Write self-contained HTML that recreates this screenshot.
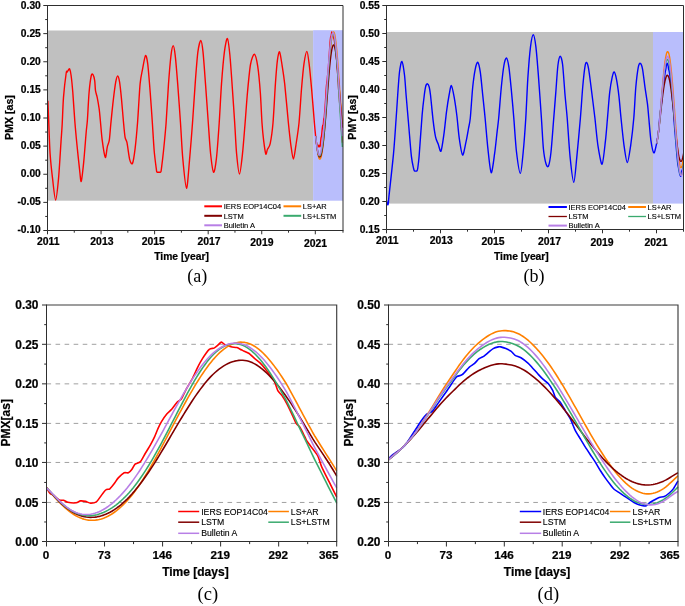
<!DOCTYPE html>
<html><head><meta charset="utf-8"><title>Figure</title>
<style>html,body{margin:0;padding:0;background:#fff;}svg{display:block;will-change:transform;}text{font-family:"Liberation Sans",sans-serif;}</style></head>
<body>
<svg width="685" height="606" viewBox="0 0 685 606" font-family="'Liberation Sans', sans-serif" fill="#000">
<rect width="685" height="606" fill="#fff"/>
<rect x="47.5" y="30.5" width="265.60" height="170.20" fill="#c0c0c0"/>
<rect x="313.1" y="30.2" width="29.90" height="170.50" fill="#b9befc"/>
<clipPath id="ca"><rect x="47.5" y="5.5" width="296.3" height="225.0"/></clipPath>
<g clip-path="url(#ca)">
<path d="M47.90,100.80C48.03,104.05 48.49,116.59 48.80,124.00C49.11,131.41 49.57,146.01 50.10,153.70C50.63,161.39 51.83,172.42 52.60,178.90C53.37,185.38 54.77,200.00 55.60,200.00C56.43,200.00 57.74,187.03 58.50,178.90C59.26,170.77 60.48,149.59 61.00,141.90C61.52,134.21 61.85,130.23 62.20,124.00C62.55,117.77 62.94,104.54 63.50,97.40C64.06,90.26 65.68,76.56 66.20,73.00C66.72,69.44 66.91,72.39 67.20,72.00C67.49,71.61 67.96,70.63 68.30,70.20C68.64,69.77 69.21,68.16 69.60,68.90C69.99,69.64 70.65,72.22 71.10,75.50C71.55,78.78 72.28,85.93 72.80,92.30C73.32,98.67 74.21,113.58 74.80,121.00C75.39,128.42 76.34,138.61 77.00,145.30C77.66,151.99 78.91,163.75 79.50,168.80C80.09,173.85 80.61,182.34 81.20,181.40C81.79,180.46 83.00,169.02 83.70,162.10C84.40,155.18 85.68,137.89 86.20,132.00C86.72,126.11 86.99,125.56 87.40,120.00C87.81,114.44 88.55,98.53 89.10,92.30C89.65,86.07 90.75,77.98 91.30,75.50C91.85,73.02 92.52,73.89 93.00,74.60C93.48,75.31 94.35,78.35 94.70,80.60C95.05,82.85 95.15,88.35 95.50,90.70C95.85,93.05 96.68,94.81 97.20,97.40C97.72,99.99 98.77,106.04 99.20,109.20C99.63,112.36 99.88,115.66 100.30,120.00C100.72,124.34 101.50,134.96 102.20,140.20C102.90,145.44 104.59,156.46 105.30,157.40C106.01,158.34 106.74,149.31 107.30,146.90C107.86,144.49 108.81,143.41 109.30,140.20C109.79,136.99 110.25,129.52 110.80,124.00C111.35,118.48 112.51,106.65 113.20,100.80C113.89,94.95 115.07,85.67 115.70,82.20C116.33,78.73 117.15,76.00 117.70,76.00C118.25,76.00 119.07,78.97 119.60,82.20C120.13,85.43 120.98,93.81 121.50,99.10C122.02,104.39 122.81,114.72 123.30,120.00C123.79,125.28 124.48,133.62 125.00,136.80C125.52,139.98 126.34,139.51 127.00,142.70C127.66,145.89 128.93,156.70 129.70,159.60C130.47,162.50 131.74,164.94 132.50,163.40C133.26,161.86 134.39,154.40 135.10,148.60C135.81,142.80 136.90,131.06 137.60,122.00C138.30,112.94 139.40,91.35 140.10,83.90C140.80,76.45 141.84,72.76 142.60,68.80C143.36,64.84 144.79,56.31 145.50,55.60C146.21,54.89 147.04,58.56 147.70,63.70C148.36,68.84 149.56,84.14 150.20,92.30C150.84,100.46 151.74,113.78 152.30,122.00C152.86,130.22 153.63,144.34 154.20,151.00C154.77,157.66 156.02,166.66 156.40,169.60C156.78,172.54 156.56,171.62 156.90,172.00C157.24,172.38 158.27,172.30 158.80,172.30C159.33,172.30 160.35,172.38 160.70,172.00C161.05,171.62 160.91,172.54 161.30,169.60C161.69,166.66 162.83,157.52 163.50,151.00C164.17,144.48 165.40,132.39 166.10,123.00C166.80,113.61 167.81,93.38 168.50,83.90C169.19,74.42 170.34,60.65 171.00,55.30C171.66,49.95 172.61,45.70 173.20,45.70C173.79,45.70 174.57,49.95 175.20,55.30C175.83,60.65 176.96,74.42 177.70,83.90C178.44,93.38 179.79,112.53 180.50,123.00C181.21,133.47 181.96,149.57 182.80,158.70C183.64,167.83 185.56,187.96 186.50,188.20C187.44,188.44 188.66,169.53 189.50,160.40C190.34,151.27 191.67,134.17 192.50,123.00C193.33,111.83 194.64,90.55 195.40,80.60C196.16,70.65 197.14,57.51 197.90,51.90C198.66,46.29 200.09,40.50 200.80,40.50C201.51,40.50 202.34,45.82 203.00,51.90C203.66,57.98 204.76,73.95 205.50,83.90C206.24,93.85 207.59,113.23 208.30,123.00C209.01,132.77 209.86,146.81 210.60,153.70C211.34,160.59 212.79,171.50 213.60,172.20C214.41,172.90 215.62,165.59 216.40,158.70C217.18,151.81 218.49,133.47 219.20,123.00C219.91,112.53 220.77,93.85 221.50,83.90C222.23,73.95 223.57,58.26 224.40,51.90C225.23,45.54 226.63,38.02 227.40,38.50C228.17,38.98 229.20,48.23 229.90,55.30C230.60,62.37 231.73,79.52 232.40,89.00C233.07,98.48 234.11,113.94 234.70,123.00C235.29,132.06 235.93,146.56 236.60,153.70C237.27,160.84 238.67,174.00 239.50,174.00C240.33,174.00 241.72,160.84 242.50,153.70C243.28,146.56 244.40,131.60 245.10,123.00C245.80,114.40 246.74,100.49 247.50,92.30C248.26,84.11 249.53,69.82 250.50,64.50C251.47,59.18 253.39,54.06 254.40,54.30C255.41,54.54 256.87,60.88 257.70,66.20C258.53,71.52 259.70,84.35 260.30,92.30C260.90,100.25 261.54,116.29 262.00,123.00C262.46,129.71 263.07,135.86 263.60,140.20C264.13,144.54 265.27,152.70 265.80,154.00C266.33,155.30 266.78,150.96 267.40,149.50C268.02,148.04 269.42,147.31 270.20,143.60C270.98,139.89 272.27,131.36 273.00,123.00C273.73,114.64 274.78,92.66 275.40,83.90C276.02,75.14 276.81,64.88 277.40,60.40C277.99,55.92 278.94,51.20 279.60,51.90C280.26,52.60 281.39,60.92 282.10,65.40C282.81,69.88 283.82,75.84 284.70,83.90C285.58,91.96 287.53,114.40 288.40,123.00C289.27,131.60 290.20,140.25 290.90,145.30C291.60,150.35 292.70,159.10 293.40,159.10C294.10,159.10 295.12,150.35 295.90,145.30C296.68,140.25 298.22,130.88 299.00,123.00C299.78,115.12 300.80,97.30 301.50,89.00C302.20,80.70 303.24,68.96 304.00,63.70C304.76,58.44 306.19,51.40 306.90,51.40C307.61,51.40 308.44,58.44 309.10,63.70C309.76,68.96 310.86,80.70 311.60,89.00C312.34,97.30 313.84,116.41 314.40,123.00C314.96,129.59 315.40,133.70 315.62,136.08C315.83,138.46 315.84,139.28 315.93,140.00C316.02,140.72 316.16,140.75 316.25,141.21C316.33,141.67 316.46,142.77 316.55,143.28C316.64,143.79 316.78,144.63 316.86,144.85C316.95,145.07 317.08,144.65 317.18,144.85C317.28,145.05 317.40,146.03 317.57,146.28C317.73,146.53 318.18,146.78 318.34,146.64C318.50,146.50 318.61,145.42 318.73,145.28C318.85,145.14 319.07,145.42 319.20,145.64C319.33,145.86 319.52,146.81 319.66,146.85C319.80,146.89 320.07,146.59 320.20,145.92C320.34,145.25 320.47,143.25 320.59,142.07C320.71,140.89 320.94,138.26 321.06,137.50C321.18,136.74 321.34,137.27 321.45,136.65C321.56,136.03 321.73,134.17 321.84,133.08C321.95,131.99 322.10,129.97 322.23,128.87C322.36,127.77 322.64,125.74 322.77,125.23C322.90,124.72 323.06,125.56 323.16,125.23C323.26,124.90 323.39,123.74 323.47,122.88C323.56,122.01 323.67,119.78 323.78,119.02C323.88,118.26 324.12,118.51 324.25,117.45C324.38,116.39 324.58,113.14 324.71,111.46C324.84,109.78 325.06,107.12 325.18,105.47C325.30,103.81 325.47,101.28 325.57,99.61C325.67,97.95 325.81,95.07 325.90,93.55C325.99,92.03 326.10,90.20 326.21,88.77C326.32,87.34 326.56,84.60 326.70,83.35C326.83,82.09 327.04,80.96 327.17,79.78C327.31,78.60 327.53,75.94 327.65,74.93C327.77,73.92 327.92,73.91 328.04,72.57C328.16,71.23 328.37,67.38 328.51,65.37C328.65,63.35 328.91,60.27 329.05,58.16C329.19,56.05 329.39,52.33 329.53,50.31C329.66,48.29 329.84,45.59 329.99,43.75C330.14,41.90 330.47,38.16 330.62,37.11C330.77,36.06 330.95,36.67 331.06,36.25C331.17,35.83 331.32,34.71 331.41,34.11C331.51,33.51 331.65,32.00 331.74,31.97C331.84,31.94 331.96,33.43 332.08,33.90C332.20,34.37 332.47,35.05 332.63,35.33C332.78,35.61 333.04,35.60 333.17,35.90C333.30,36.20 333.48,37.13 333.57,37.47C333.65,37.81 333.70,37.95 333.80,38.32C333.91,38.69 334.17,39.44 334.30,40.11C334.43,40.78 334.58,42.17 334.72,43.10C334.86,44.03 335.15,45.64 335.30,46.74C335.45,47.84 335.65,49.69 335.78,50.95C335.91,52.21 336.12,54.47 336.24,55.73C336.36,56.99 336.53,58.42 336.63,59.94C336.73,61.46 336.85,65.15 336.94,66.58C337.04,68.01 337.21,68.81 337.33,70.15C337.45,71.48 337.67,74.37 337.80,76.14C337.92,77.91 338.10,80.84 338.21,82.78C338.33,84.71 338.53,88.58 338.64,89.98C338.74,91.38 338.87,91.42 338.98,92.76C339.10,94.11 339.35,98.17 339.45,99.61C339.54,101.06 339.51,101.27 339.68,103.11C339.84,104.95 340.42,110.22 340.61,112.74C340.79,115.27 340.85,118.48 341.01,121.16C341.16,123.85 341.50,128.91 341.70,131.94C341.89,134.96 342.30,141.26 342.40,142.78" fill="none" stroke="#ff0000" stroke-width="1.4" stroke-linejoin="round" stroke-linecap="butt" />
<path d="M315.62,136.01L315.81,137.76L316.00,139.51L316.20,141.23L316.39,142.92L316.58,144.57L316.77,146.15L316.97,147.67L317.16,149.12L317.35,150.48L317.55,151.75L317.74,152.94L317.93,154.03L318.12,155.01L318.32,155.90L318.51,156.68L318.70,157.36L318.89,157.93L319.09,158.39L319.28,158.74L319.47,158.98L319.67,159.11L319.87,159.13L320.07,159.05L320.27,158.85L320.47,158.54L320.67,158.12L320.87,157.60L321.07,156.97L321.27,156.23L321.47,155.39L321.67,154.44L321.86,153.38L322.06,152.23L322.26,150.97L322.46,149.62L322.66,148.17L322.86,146.62L323.06,144.98L323.26,143.25L323.46,141.43L323.65,139.52L323.84,137.53L324.03,135.45L324.22,133.30L324.41,131.07L324.60,128.77L324.79,126.41L324.99,123.97L325.18,121.48L325.37,118.93L325.56,116.33L325.75,113.69L325.94,110.99L326.13,108.27L326.32,105.50L326.51,102.72L326.70,99.90L326.89,97.08L327.08,94.24L327.27,91.39L327.47,88.55L327.67,85.71L327.86,82.88L328.06,80.07L328.25,77.29L328.45,74.54L328.65,71.82L328.84,69.15L329.04,66.53L329.23,63.96L329.43,61.45L329.63,59.01L329.82,56.64L330.02,54.35L330.21,52.15L330.41,50.04L330.61,48.02L330.80,46.10L331.00,44.29L331.19,42.58L331.39,40.99L331.58,39.52L331.78,38.18L331.97,36.95L332.17,35.86L332.36,34.90L332.56,34.07L332.75,33.38L332.95,32.83L333.14,32.42L333.33,32.15L333.52,32.02L333.71,32.04L333.89,32.19L334.08,32.49L334.27,32.93L334.46,33.51L334.64,34.22L334.83,35.07L335.02,36.05L335.21,37.16L335.39,38.40L335.58,39.76L335.77,41.24L335.96,42.83L336.15,44.53L336.35,46.33L336.54,48.23L336.73,50.22L336.93,52.30L337.12,54.45L337.31,56.68L337.51,58.97L337.70,61.33L337.88,63.73L338.06,66.18L338.23,68.67L338.41,71.20L338.58,73.74L338.76,76.31L338.94,78.89L339.11,81.47L339.29,84.06L339.47,86.64L339.65,89.21L339.83,91.77L340.01,94.32L340.19,96.85L340.38,99.36L340.59,101.85L340.79,104.33L340.99,106.79L341.19,109.24L341.39,111.68L341.59,114.13L341.79,116.58L342.00,119.06L342.20,121.57L342.40,124.14" fill="none" stroke="#ff8000" stroke-width="1.4" stroke-linejoin="round" stroke-linecap="butt" />
<path d="M315.62,136.00L315.81,137.73L316.00,139.44L316.20,141.11L316.39,142.73L316.58,144.28L316.77,145.75L316.97,147.15L317.16,148.47L317.35,149.70L317.55,150.84L317.74,151.89L317.93,152.84L318.12,153.69L318.32,154.45L318.51,155.11L318.70,155.67L318.89,156.14L319.09,156.51L319.28,156.77L319.47,156.94L319.67,157.02L319.87,156.99L320.07,156.87L320.27,156.65L320.47,156.34L320.67,155.93L320.87,155.42L321.07,154.82L321.27,154.13L321.47,153.35L321.67,152.47L321.86,151.50L322.06,150.43L322.26,149.28L322.46,148.05L322.66,146.72L322.86,145.31L323.06,143.82L323.26,142.24L323.46,140.58L323.66,138.85L323.85,137.04L324.05,135.16L324.24,133.22L324.43,131.20L324.63,129.12L324.82,126.99L325.02,124.79L325.21,122.55L325.41,120.26L325.60,117.92L325.79,115.55L325.98,113.14L326.17,110.70L326.37,108.24L326.56,105.75L326.75,103.25L326.94,100.74L327.13,98.23L327.32,95.72L327.51,93.21L327.70,90.72L327.89,88.24L328.08,85.78L328.27,83.35L328.47,80.96L328.66,78.60L328.85,76.29L329.04,74.02L329.23,71.81L329.42,69.65L329.61,67.56L329.80,65.54L329.99,63.59L330.18,61.72L330.38,59.93L330.57,58.22L330.76,56.61L330.96,55.08L331.16,53.65L331.36,52.32L331.56,51.10L331.76,49.97L331.96,48.96L332.16,48.05L332.36,47.26L332.56,46.58L332.76,46.01L332.96,45.57L333.16,45.23L333.35,45.02L333.53,44.92L333.71,44.94L333.90,45.08L334.08,45.33L334.26,45.70L334.44,46.19L334.63,46.79L334.81,47.50L334.99,48.32L335.18,49.25L335.36,50.29L335.54,51.43L335.73,52.67L335.91,54.01L336.10,55.44L336.29,56.96L336.48,58.56L336.67,60.25L336.87,62.01L337.06,63.85L337.25,65.75L337.44,67.71L337.63,69.74L337.82,71.81L338.00,73.93L338.19,76.09L338.37,78.29L338.56,80.52L338.75,82.77L338.93,85.05L339.11,87.34L339.29,89.65L339.47,91.96L339.65,94.27L339.83,96.59L340.01,98.91L340.19,101.22L340.38,103.54L340.59,105.85L340.79,108.16L340.99,110.49L341.19,112.82L341.39,115.18L341.59,117.57L341.79,120.00L342.00,122.49L342.20,125.07L342.40,127.75" fill="none" stroke="#800000" stroke-width="1.4" stroke-linejoin="round" stroke-linecap="butt" />
<path d="M315.62,136.09L315.81,137.59L316.00,139.14L316.20,140.72L316.39,142.29L316.58,143.83L316.77,145.32L316.97,146.73L317.16,148.06L317.35,149.30L317.55,150.44L317.74,151.48L317.93,152.41L318.12,153.22L318.32,153.93L318.51,154.52L318.70,155.00L318.89,155.37L319.09,155.64L319.28,155.80L319.47,155.86L319.67,155.81L319.86,155.67L320.06,155.43L320.26,155.10L320.46,154.67L320.65,154.15L320.85,153.54L321.05,152.84L321.25,152.06L321.44,151.18L321.64,150.22L321.84,149.18L322.04,148.04L322.23,146.82L322.43,145.51L322.63,144.12L322.83,142.64L323.02,141.07L323.22,139.41L323.42,137.67L323.61,135.85L323.81,133.94L324.00,131.94L324.19,129.87L324.39,127.71L324.58,125.47L324.78,123.16L324.97,120.77L325.16,118.31L325.36,115.78L325.55,113.19L325.75,110.54L325.94,107.84L326.13,105.08L326.33,102.28L326.52,99.44L326.72,96.57L326.91,93.67L327.11,90.76L327.30,87.83L327.49,84.90L327.69,81.98L327.88,79.06L328.08,76.17L328.27,73.30L328.47,70.48L328.66,67.69L328.86,64.97L329.05,62.30L329.25,59.70L329.44,57.19L329.64,54.76L329.83,52.43L330.02,50.20L330.22,48.08L330.41,46.07L330.61,44.20L330.80,42.45L331.00,40.83L331.20,39.36L331.40,38.04L331.60,36.86L331.80,35.84L331.99,34.98L332.19,34.27L332.39,33.73L332.59,33.35L332.79,33.13L332.99,33.08L333.19,33.18L333.38,33.45L333.57,33.88L333.76,34.46L333.95,35.20L334.15,36.08L334.34,37.11L334.53,38.28L334.72,39.59L334.91,41.03L335.10,42.59L335.29,44.27L335.49,46.06L335.68,47.95L335.87,49.94L336.06,52.03L336.25,54.20L336.43,56.45L336.62,58.77L336.81,61.15L337.00,63.59L337.19,66.09L337.37,68.64L337.56,71.22L337.75,73.85L337.92,76.51L338.09,79.20L338.26,81.92L338.43,84.67L338.60,87.44L338.77,90.23L338.94,93.04L339.11,95.88L339.29,98.73L339.47,101.61L339.65,104.52L339.83,107.45L340.01,110.40L340.19,113.38L340.38,116.38L340.59,119.41L340.79,122.47L340.99,125.55L341.19,128.64L341.39,131.75L341.59,134.85L341.79,137.95L342.00,141.02L342.20,144.05L342.40,147.01" fill="none" stroke="#3aaa6e" stroke-width="1.4" stroke-linejoin="round" stroke-linecap="butt" />
<path d="M315.62,136.10L315.81,137.54L316.00,139.05L316.20,140.59L316.39,142.13L316.58,143.64L316.77,145.11L316.97,146.51L317.16,147.83L317.35,149.06L317.55,150.18L317.74,151.20L317.93,152.10L318.12,152.88L318.32,153.54L318.51,154.08L318.70,154.50L318.89,154.80L319.09,154.97L319.28,155.03L319.47,154.97L319.67,154.79L319.86,154.50L320.06,154.10L320.26,153.59L320.46,152.97L320.65,152.25L320.85,151.43L321.05,150.50L321.25,149.48L321.44,148.36L321.64,147.15L321.84,145.85L322.04,144.45L322.23,142.97L322.43,141.40L322.63,139.75L322.83,138.01L323.02,136.20L323.22,134.30L323.42,132.33L323.61,130.28L323.81,128.16L324.00,125.98L324.19,123.72L324.39,121.41L324.58,119.03L324.78,116.60L324.97,114.11L325.16,111.58L325.36,109.00L325.55,106.38L325.75,103.72L325.94,101.04L326.13,98.32L326.33,95.59L326.52,92.84L326.72,90.09L326.91,87.33L327.11,84.57L327.30,81.82L327.49,79.08L327.69,76.37L327.88,73.69L328.08,71.04L328.27,68.43L328.47,65.87L328.66,63.36L328.86,60.91L329.05,58.53L329.25,56.22L329.44,54.00L329.64,51.85L329.83,49.80L330.02,47.84L330.22,45.98L330.41,44.23L330.61,42.59L330.80,41.07L331.00,39.66L331.21,38.38L331.41,37.22L331.61,36.19L331.81,35.29L332.02,34.52L332.22,33.89L332.42,33.39L332.62,33.03L332.83,32.80L333.03,32.72L333.23,32.76L333.42,32.94L333.61,33.26L333.80,33.70L333.99,34.28L334.18,34.98L334.36,35.81L334.55,36.76L334.74,37.82L334.93,39.00L335.12,40.29L335.31,41.69L335.49,43.19L335.68,44.79L335.87,46.48L336.06,48.26L336.25,50.12L336.43,52.07L336.62,54.09L336.81,56.18L337.00,58.34L337.19,60.57L337.37,62.85L337.56,65.19L337.75,67.58L337.92,70.01L338.09,72.50L338.26,75.02L338.43,77.58L338.60,80.18L338.77,82.82L338.94,85.48L339.11,88.18L339.29,90.90L339.47,93.66L339.65,96.43L339.83,99.23L340.01,102.05L340.19,104.89L340.38,107.75L340.59,110.62L340.79,113.50L340.99,116.38L341.19,119.27L341.39,122.15L341.59,125.02L341.79,127.86L342.00,130.68L342.20,133.44L342.40,136.15" fill="none" stroke="#b87fe6" stroke-width="1.4" stroke-linejoin="round" stroke-linecap="butt" />
</g>
<path d="M47.5,5.5H343.0V230.5" fill="none" stroke="#2e2e2e" stroke-width="1.0"/><path d="M47.5,5.0V230.5H343.5" fill="none" stroke="#2e2e2e" stroke-width="1"/>
<path d="M43.3,5.50H47.5" stroke="#2e2e2e" stroke-width="1"/><text x="40.8" y="9.17" text-anchor="end" font-size="10.25" font-weight="bold" stroke="#000" stroke-width="0.22">0.30</text><path d="M45.2,19.56H47.5" stroke="#2e2e2e" stroke-width="1"/><path d="M43.3,33.62H47.5" stroke="#2e2e2e" stroke-width="1"/><text x="40.8" y="37.18" text-anchor="end" font-size="10.25" font-weight="bold" stroke="#000" stroke-width="0.22">0.25</text><path d="M45.2,47.69H47.5" stroke="#2e2e2e" stroke-width="1"/><path d="M43.3,61.75H47.5" stroke="#2e2e2e" stroke-width="1"/><text x="40.8" y="65.20" text-anchor="end" font-size="10.25" font-weight="bold" stroke="#000" stroke-width="0.22">0.20</text><path d="M45.2,75.81H47.5" stroke="#2e2e2e" stroke-width="1"/><path d="M43.3,89.88H47.5" stroke="#2e2e2e" stroke-width="1"/><text x="40.8" y="93.21" text-anchor="end" font-size="10.25" font-weight="bold" stroke="#000" stroke-width="0.22">0.15</text><path d="M45.2,103.94H47.5" stroke="#2e2e2e" stroke-width="1"/><path d="M43.3,118.00H47.5" stroke="#2e2e2e" stroke-width="1"/><text x="40.8" y="121.23" text-anchor="end" font-size="10.25" font-weight="bold" stroke="#000" stroke-width="0.22">0.10</text><path d="M45.2,132.06H47.5" stroke="#2e2e2e" stroke-width="1"/><path d="M43.3,146.12H47.5" stroke="#2e2e2e" stroke-width="1"/><text x="40.8" y="149.24" text-anchor="end" font-size="10.25" font-weight="bold" stroke="#000" stroke-width="0.22">0.05</text><path d="M45.2,160.19H47.5" stroke="#2e2e2e" stroke-width="1"/><path d="M43.3,174.25H47.5" stroke="#2e2e2e" stroke-width="1"/><text x="40.8" y="177.26" text-anchor="end" font-size="10.25" font-weight="bold" stroke="#000" stroke-width="0.22">0.00</text><path d="M45.2,188.31H47.5" stroke="#2e2e2e" stroke-width="1"/><path d="M43.3,202.38H47.5" stroke="#2e2e2e" stroke-width="1"/><text x="40.8" y="205.27" text-anchor="end" font-size="10.25" font-weight="bold" stroke="#000" stroke-width="0.22">-0.05</text><path d="M45.2,216.44H47.5" stroke="#2e2e2e" stroke-width="1"/><path d="M43.3,230.50H47.5" stroke="#2e2e2e" stroke-width="1"/><text x="40.8" y="233.29" text-anchor="end" font-size="10.25" font-weight="bold" stroke="#000" stroke-width="0.22">-0.10</text>
<path d="M47.50,230.5v3.8" stroke="#2e2e2e" stroke-width="1"/>
<text x="48.20" y="244.8" text-anchor="middle" font-size="10.4" font-weight="bold" stroke="#000" stroke-width="0.22">2011</text>
<path d="M74.28,230.5v2.2" stroke="#2e2e2e" stroke-width="1"/>
<path d="M101.06,230.5v3.8" stroke="#2e2e2e" stroke-width="1"/>
<text x="101.90" y="244.8" text-anchor="middle" font-size="10.4" font-weight="bold" stroke="#000" stroke-width="0.22">2013</text>
<path d="M127.84,230.5v2.2" stroke="#2e2e2e" stroke-width="1"/>
<path d="M154.62,230.5v3.8" stroke="#2e2e2e" stroke-width="1"/>
<text x="153.30" y="245.1" text-anchor="middle" font-size="10.4" font-weight="bold" stroke="#000" stroke-width="0.22">2015</text>
<path d="M181.40,230.5v2.2" stroke="#2e2e2e" stroke-width="1"/>
<path d="M208.18,230.5v3.8" stroke="#2e2e2e" stroke-width="1"/>
<text x="209.10" y="245.1" text-anchor="middle" font-size="10.4" font-weight="bold" stroke="#000" stroke-width="0.22">2017</text>
<path d="M234.96,230.5v2.2" stroke="#2e2e2e" stroke-width="1"/>
<path d="M261.74,230.5v3.8" stroke="#2e2e2e" stroke-width="1"/>
<text x="261.90" y="246.0" text-anchor="middle" font-size="10.4" font-weight="bold" stroke="#000" stroke-width="0.22">2019</text>
<path d="M288.52,230.5v2.2" stroke="#2e2e2e" stroke-width="1"/>
<path d="M315.30,230.5v3.8" stroke="#2e2e2e" stroke-width="1"/>
<text x="315.60" y="246.7" text-anchor="middle" font-size="10.4" font-weight="bold" stroke="#000" stroke-width="0.22">2021</text>
<path d="M343.00,230.5v2.2" stroke="#2e2e2e" stroke-width="1"/>
<text x="181.6" y="260.3" text-anchor="middle" font-size="10.3" font-weight="bold" stroke="#000" stroke-width="0.22">Time [year]</text>
<text transform="translate(13.1,117.5) rotate(-90)" text-anchor="middle" font-size="10.6" font-weight="bold" stroke="#000" stroke-width="0.22">PMX [as]</text>
<text x="197.3" y="282" text-anchor="middle" font-size="18" style="font-family:'Liberation Serif',serif">(a)</text>
<path d="M204.3,206.3H222.0" stroke="#ff0000" stroke-width="2.0"/><text x="223.7" y="209.00" font-size="7.5" fill="#000" stroke="#000" stroke-width="0.12">IERS EOP14C04</text><path d="M204.3,215.8H222.0" stroke="#800000" stroke-width="2.0"/><text x="223.7" y="218.50" font-size="7.5" fill="#000" stroke="#000" stroke-width="0.12">LSTM</text><path d="M204.3,225.3H222.0" stroke="#b87fe6" stroke-width="2.0"/><text x="223.7" y="228.00" font-size="7.5" fill="#000" stroke="#000" stroke-width="0.12">Bulletin A</text><path d="M283.5,206.3H301.2" stroke="#ff8000" stroke-width="2.0"/><text x="302.8" y="209.00" font-size="7.5" fill="#000" stroke="#000" stroke-width="0.12">LS+AR</text><path d="M283.5,215.8H301.2" stroke="#3aaa6e" stroke-width="2.0"/><text x="302.8" y="218.50" font-size="7.5" fill="#000" stroke="#000" stroke-width="0.12">LS+LSTM</text>
<rect x="386.5" y="32.0" width="266.50" height="171.60" fill="#c0c0c0"/>
<rect x="653.0" y="32.0" width="30.50" height="171.60" fill="#b9befc"/>
<clipPath id="cb"><rect x="386.5" y="5.5" width="297.5" height="224.0"/></clipPath>
<g clip-path="url(#cb)">
<path d="M386.40,200.20C386.51,200.59 386.99,202.34 387.20,203.00C387.41,203.66 387.72,204.97 387.90,204.90C388.08,204.83 388.36,203.62 388.50,202.50C388.64,201.38 388.20,203.70 388.90,196.90C389.60,190.10 392.51,164.62 393.50,153.90C394.49,143.18 395.41,128.55 396.00,120.30C396.59,112.05 397.21,101.76 397.70,95.00C398.19,88.24 398.91,76.70 399.50,72.00C400.09,67.30 401.20,60.98 401.90,61.40C402.60,61.82 403.91,70.30 404.50,75.00C405.09,79.70 405.51,87.96 406.10,95.00C406.69,102.04 407.96,116.70 408.70,125.30C409.44,133.90 410.71,150.35 411.40,156.40C412.09,162.45 413.18,166.48 413.60,168.50C414.02,170.52 414.11,170.44 414.40,170.80C414.69,171.16 415.34,171.10 415.70,171.10C416.06,171.10 416.72,171.16 417.00,170.80C417.28,170.44 417.41,170.52 417.70,168.50C417.99,166.48 418.48,163.86 419.10,156.40C419.72,148.94 421.37,123.80 422.10,115.20C422.83,106.60 423.78,99.09 424.30,95.00C424.82,90.91 425.35,87.57 425.80,86.00C426.25,84.43 427.02,83.66 427.50,83.80C427.98,83.94 428.78,85.43 429.20,87.00C429.62,88.57 429.95,90.34 430.50,95.00C431.05,99.66 432.39,114.41 433.10,120.30C433.81,126.19 434.90,133.81 435.60,137.10C436.30,140.39 437.34,141.84 438.10,143.80C438.86,145.76 440.17,152.51 441.00,151.10C441.83,149.69 443.23,139.20 444.00,133.70C444.77,128.20 445.79,117.22 446.50,111.80C447.21,106.38 448.41,98.67 449.10,95.00C449.79,91.33 450.69,85.26 451.40,85.60C452.11,85.94 453.43,93.14 454.20,97.40C454.97,101.66 456.19,110.23 456.90,116.00C457.61,121.77 458.50,133.13 459.30,138.60C460.10,144.07 461.66,154.64 462.60,155.10C463.54,155.56 465.17,145.62 466.00,141.90C466.83,138.18 467.90,131.85 468.50,128.50C469.10,125.15 469.71,123.77 470.30,118.00C470.89,112.23 472.00,94.19 472.70,87.30C473.40,80.41 474.59,72.29 475.30,68.80C476.01,65.31 477.10,61.92 477.80,62.40C478.50,62.88 479.60,67.52 480.30,72.20C481.00,76.88 482.13,89.39 482.80,95.80C483.47,102.21 484.39,110.59 485.10,118.00C485.81,125.41 487.05,141.04 487.90,148.70C488.75,156.36 490.26,172.00 491.20,172.70C492.14,173.40 493.77,159.43 494.60,153.70C495.43,147.97 496.53,136.80 497.10,131.80C497.67,126.80 498.11,124.23 498.70,118.00C499.29,111.77 500.57,94.65 501.30,87.30C502.03,79.95 503.19,69.62 503.90,65.50C504.61,61.38 505.70,57.68 506.40,57.90C507.10,58.12 508.20,62.51 508.90,67.10C509.60,71.69 510.71,83.57 511.40,90.70C512.09,97.83 513.09,109.42 513.80,118.00C514.51,126.58 515.58,144.24 516.50,152.00C517.42,159.76 519.46,173.40 520.40,173.40C521.34,173.40 522.44,159.76 523.20,152.00C523.96,144.24 525.16,128.23 525.80,118.00C526.44,107.77 527.14,88.85 527.80,78.90C528.46,68.95 529.73,53.07 530.50,46.90C531.27,40.73 532.54,34.80 533.30,34.80C534.06,34.80 535.19,41.19 535.90,46.90C536.61,52.61 537.63,65.65 538.40,75.60C539.17,85.55 540.70,107.77 541.40,118.00C542.10,128.23 542.76,142.29 543.40,148.70C544.04,155.11 545.29,161.38 546.00,163.80C546.71,166.22 547.80,167.65 548.50,166.00C549.20,164.35 550.29,158.44 551.00,152.00C551.71,145.56 552.93,128.34 553.60,120.00C554.27,111.66 555.20,100.03 555.80,92.40C556.40,84.77 557.28,70.57 557.90,65.50C558.52,60.43 559.54,56.34 560.20,56.20C560.86,56.06 561.91,58.96 562.60,64.50C563.29,70.04 564.46,88.31 565.10,95.80C565.74,103.29 566.50,109.42 567.20,118.00C567.90,126.58 569.18,148.10 570.10,157.10C571.02,166.10 572.86,182.30 573.80,182.30C574.74,182.30 575.88,166.10 576.80,157.10C577.72,148.10 579.57,127.77 580.40,118.00C581.23,108.23 582.07,94.43 582.70,87.30C583.33,80.17 584.35,70.59 584.90,67.10C585.45,63.61 586.08,62.16 586.60,62.40C587.12,62.64 587.97,65.31 588.60,68.80C589.23,72.29 590.22,80.41 591.10,87.30C591.98,94.19 593.95,109.88 594.90,118.00C595.85,126.12 596.89,138.83 597.90,145.30C598.91,151.77 601.04,164.90 602.10,164.20C603.16,163.50 604.74,146.77 605.50,140.30C606.26,133.83 606.91,124.71 607.50,118.00C608.09,111.29 609.04,98.11 609.70,92.40C610.36,86.69 611.57,80.07 612.20,77.20C612.83,74.33 613.61,71.66 614.20,71.90C614.79,72.14 615.74,75.55 616.40,78.90C617.06,82.25 618.26,90.33 618.90,95.80C619.54,101.27 620.29,111.07 621.00,118.00C621.71,124.93 623.12,139.06 624.00,145.30C624.88,151.54 626.36,162.60 627.30,162.60C628.24,162.60 629.79,151.54 630.70,145.30C631.61,139.06 633.09,126.12 633.80,118.00C634.51,109.88 635.17,94.43 635.80,87.30C636.43,80.17 637.67,70.46 638.30,67.10C638.93,63.74 639.71,63.06 640.30,63.30C640.89,63.54 641.84,65.44 642.50,68.80C643.16,72.16 644.30,82.34 645.00,87.30C645.70,92.26 646.97,99.90 647.50,104.20C648.03,108.50 648.32,112.95 648.80,118.00C649.28,123.05 650.19,135.41 650.90,140.30C651.61,145.19 653.07,152.56 653.90,152.90C654.73,153.24 656.36,144.49 656.81,142.72C657.26,140.95 657.02,140.94 657.13,140.27C657.23,139.60 657.40,138.90 657.56,137.92C657.73,136.95 658.09,135.45 658.33,133.31C658.57,131.16 659.05,125.09 659.27,122.58C659.49,120.07 659.74,117.02 659.90,115.40C660.05,113.79 660.23,111.93 660.36,111.07C660.50,110.22 660.71,110.30 660.86,109.30C661.00,108.29 661.18,105.91 661.37,103.90C661.56,101.89 661.97,97.45 662.20,94.95C662.43,92.44 662.86,87.51 663.00,86.00C663.14,84.48 663.14,84.57 663.23,84.15C663.32,83.73 663.51,83.93 663.67,83.01C663.83,82.10 664.18,78.71 664.34,77.61C664.50,76.52 664.67,76.03 664.80,75.20C664.93,74.36 665.12,72.40 665.25,71.65C665.38,70.89 665.58,70.48 665.71,69.80C665.84,69.12 666.05,67.56 666.17,66.82C666.29,66.07 666.44,64.97 666.56,64.47C666.69,63.97 666.94,63.43 667.04,63.26C667.14,63.09 667.17,63.09 667.27,63.26C667.37,63.43 667.62,64.05 667.75,64.47C667.88,64.89 668.10,65.58 668.22,66.25C668.34,66.91 668.48,68.56 668.61,69.23C668.74,69.90 668.99,70.25 669.16,71.01C669.32,71.76 669.64,73.71 669.78,74.63C669.92,75.54 670.01,76.38 670.16,77.54C670.30,78.71 670.64,81.68 670.79,82.94C670.94,84.20 671.12,85.64 671.26,86.56C671.39,87.49 671.61,88.46 671.73,89.55C671.85,90.63 672.04,92.97 672.12,94.31C672.21,95.64 672.26,97.89 672.36,99.07C672.46,100.24 672.70,101.35 672.83,102.69C672.96,104.03 673.17,106.99 673.30,108.66C673.43,110.33 673.65,112.70 673.77,114.62C673.90,116.54 674.08,120.45 674.20,122.37C674.33,124.29 674.54,126.66 674.67,128.33C674.80,130.00 675.01,132.71 675.15,134.30C675.28,135.89 675.48,138.19 675.61,139.70C675.74,141.21 675.96,143.51 676.09,145.10C676.22,146.69 676.42,149.47 676.55,151.06C676.69,152.66 676.90,155.04 677.03,156.46C677.16,157.89 677.39,160.14 677.50,161.22C677.61,162.31 677.70,163.45 677.81,164.21C677.92,164.96 678.15,165.95 678.28,166.62C678.41,167.30 678.62,168.37 678.75,169.04C678.89,169.70 679.09,170.71 679.22,171.38C679.35,172.05 679.56,173.24 679.70,173.80C679.83,174.35 680.03,175.02 680.16,175.36C680.29,175.70 680.54,176.13 680.64,176.21C680.74,176.29 680.79,176.27 680.87,175.93C680.95,175.59 681.09,174.34 681.19,173.80C681.29,173.25 681.46,172.53 681.58,172.02C681.70,171.51 681.91,170.51 682.05,170.17C682.18,169.84 682.39,170.04 682.52,169.60C682.65,169.17 682.87,167.84 682.99,167.05C683.11,166.25 683.27,165.14 683.38,163.93C683.50,162.71 683.75,159.16 683.81,158.38" fill="none" stroke="#0000ff" stroke-width="1.4" stroke-linejoin="round" stroke-linecap="butt" />
<path d="M656.81,143.44L657.00,142.03L657.20,140.74L657.39,139.51L657.59,138.28L657.78,137.02L657.97,135.67L658.17,134.23L658.36,132.68L658.57,131.05L658.78,129.30L658.99,127.42L659.19,125.41L659.40,123.28L659.61,121.04L659.82,118.71L660.03,116.29L660.24,113.79L660.45,111.24L660.66,108.64L660.87,106.02L661.08,103.37L661.29,100.72L661.50,98.07L661.71,95.45L661.93,92.85L662.15,90.29L662.37,87.77L662.59,85.31L662.80,82.92L663.01,80.59L663.21,78.33L663.41,76.15L663.60,74.06L663.80,72.05L664.00,70.13L664.20,68.29L664.39,66.55L664.59,64.91L664.79,63.35L664.99,61.89L665.18,60.53L665.38,59.26L665.58,58.09L665.77,57.02L665.96,56.04L666.14,55.15L666.32,54.36L666.50,53.67L666.68,53.07L666.86,52.57L667.04,52.17L667.22,51.91L667.40,51.76L667.57,51.70L667.75,51.74L667.93,51.86L668.10,51.99L668.27,52.23L668.45,52.55L668.62,52.98L668.79,53.51L668.97,54.13L669.14,54.86L669.32,55.71L669.50,56.67L669.69,57.73L669.87,58.88L670.05,60.13L670.23,61.48L670.41,62.92L670.60,64.45L670.79,66.07L670.99,67.78L671.18,69.58L671.38,71.46L671.57,73.42L671.77,75.45L671.96,77.56L672.15,79.74L672.35,81.99L672.54,84.30L672.74,86.66L672.93,89.07L673.13,91.54L673.32,94.04L673.51,96.58L673.71,99.16L673.90,101.75L674.10,104.37L674.29,107.00L674.49,109.64L674.68,112.28L674.87,114.92L675.07,117.55L675.26,120.17L675.46,122.76L675.65,125.33L675.85,127.87L676.04,130.37L676.23,132.83L676.43,135.24L676.62,137.60L676.82,139.90L677.01,142.14L677.21,144.31L677.40,146.42L677.59,148.45L677.79,150.40L677.98,152.26L678.18,154.04L678.37,155.73L678.56,157.32L678.76,158.82L678.95,160.21L679.15,161.49L679.34,162.66L679.54,163.72L679.73,164.66L679.92,165.48L680.12,166.18L680.31,166.74L680.51,167.18L680.70,167.48L680.90,167.64L681.09,167.66L681.28,167.54L681.48,167.27L681.67,166.87L681.87,166.32L682.06,165.64L682.26,164.83L682.45,163.90L682.64,162.82L682.84,161.59L683.03,160.27L683.23,158.90L683.42,157.51L683.62,156.12L683.81,154.79" fill="none" stroke="#ff8000" stroke-width="1.4" stroke-linejoin="round" stroke-linecap="butt" />
<path d="M656.81,143.39L657.00,142.17L657.20,140.95L657.39,139.70L657.59,138.42L657.78,137.08L657.97,135.67L658.17,134.19L658.36,132.65L658.57,131.09L658.78,129.47L658.99,127.78L659.19,126.03L659.40,124.23L659.61,122.38L659.82,120.50L660.03,118.59L660.24,116.67L660.45,114.73L660.66,112.80L660.87,110.87L661.08,108.95L661.29,107.05L661.50,105.18L661.71,103.34L661.93,101.54L662.15,99.77L662.37,98.06L662.59,96.40L662.80,94.78L663.01,93.23L663.21,91.73L663.41,90.29L663.60,88.92L663.80,87.60L664.00,86.35L664.20,85.17L664.39,84.05L664.59,83.00L664.79,82.01L664.99,81.09L665.18,80.23L665.38,79.44L665.58,78.72L665.77,78.06L665.96,77.47L666.14,76.95L666.32,76.49L666.50,76.10L666.68,75.78L666.86,75.52L667.04,75.34L667.22,75.27L667.40,75.28L667.57,75.36L667.75,75.51L667.93,75.71L668.10,75.90L668.27,76.16L668.45,76.50L668.62,76.90L668.79,77.37L668.97,77.92L669.14,78.54L669.32,79.27L669.50,80.07L669.69,80.94L669.87,81.88L670.05,82.89L670.23,83.98L670.41,85.13L670.60,86.34L670.79,87.62L670.99,88.96L671.18,90.37L671.38,91.83L671.57,93.35L671.77,94.92L671.96,96.55L672.15,98.22L672.35,99.94L672.54,101.70L672.74,103.49L672.93,105.32L673.13,107.18L673.32,109.07L673.51,110.98L673.71,112.90L673.90,114.84L674.10,116.79L674.29,118.75L674.49,120.70L674.68,122.65L674.87,124.59L675.07,126.52L675.26,128.44L675.46,130.33L675.65,132.20L675.85,134.04L676.04,135.84L676.23,137.61L676.43,139.34L676.62,141.03L676.82,142.66L677.01,144.25L677.21,145.78L677.40,147.26L677.59,148.68L677.79,150.03L677.98,151.32L678.18,152.54L678.37,153.70L678.56,154.78L678.76,155.78L678.95,156.71L679.15,157.56L679.34,158.33L679.54,159.01L679.73,159.61L679.92,160.13L680.12,160.56L680.31,160.89L680.51,161.14L680.70,161.30L680.90,161.36L681.09,161.33L681.28,161.20L681.48,160.99L681.67,160.69L681.87,160.29L682.06,159.82L682.26,159.26L682.45,158.63L682.64,157.91L682.84,157.07L683.03,156.19L683.23,155.29L683.42,154.38L683.62,153.49L683.81,152.65" fill="none" stroke="#800000" stroke-width="1.4" stroke-linejoin="round" stroke-linecap="butt" />
<path d="M656.81,143.34L657.00,142.13L657.20,140.95L657.39,139.75L657.59,138.50L657.78,137.19L657.97,135.79L658.17,134.28L658.36,132.68L658.57,131.03L658.78,129.27L658.99,127.40L659.19,125.43L659.40,123.37L659.61,121.23L659.82,119.01L660.03,116.72L660.24,114.39L660.45,112.01L660.66,109.60L660.87,107.17L661.08,104.73L661.29,102.29L661.50,99.86L661.71,97.45L661.93,95.08L662.15,92.74L662.37,90.44L662.59,88.20L662.80,86.02L663.01,83.90L663.21,81.86L663.41,79.88L663.60,77.99L663.80,76.18L664.00,74.45L664.20,72.81L664.39,71.26L664.59,69.80L664.79,68.44L664.99,67.17L665.18,65.99L665.38,64.91L665.58,63.92L665.77,63.03L665.96,62.24L666.15,61.54L666.33,60.94L666.52,60.44L666.70,60.03L666.89,59.72L667.07,59.50L667.26,59.43L667.44,59.47L667.62,59.59L667.81,59.81L667.99,60.12L668.17,60.43L668.35,60.83L668.53,61.32L668.70,61.91L668.88,62.59L669.06,63.36L669.23,64.23L669.41,65.21L669.59,66.30L669.77,67.47L669.95,68.72L670.13,70.07L670.31,71.50L670.49,73.01L670.67,74.61L670.85,76.28L671.04,78.04L671.22,79.87L671.40,81.77L671.59,83.75L671.77,85.79L671.96,87.90L672.15,90.07L672.35,92.30L672.54,94.59L672.74,96.92L672.93,99.30L673.13,101.73L673.32,104.20L673.51,106.69L673.71,109.22L673.90,111.77L674.10,114.34L674.29,116.92L674.49,119.51L674.68,122.10L674.87,124.69L675.07,127.27L675.26,129.84L675.46,132.38L675.65,134.90L675.85,137.39L676.04,139.84L676.23,142.25L676.43,144.61L676.62,146.91L676.82,149.16L677.01,151.34L677.21,153.46L677.40,155.50L677.59,157.46L677.79,159.33L677.98,161.12L678.18,162.82L678.37,164.43L678.56,165.93L678.76,167.33L678.95,168.62L679.15,169.81L679.34,170.88L679.54,171.84L679.73,172.69L679.92,173.41L680.12,174.01L680.31,174.50L680.51,174.86L680.70,175.09L680.90,175.21L681.09,175.20L681.28,175.06L681.48,174.80L681.67,174.42L681.87,173.92L682.06,173.30L682.26,172.57L682.45,171.73L682.64,170.75L682.84,169.61L683.03,168.37L683.23,167.05L683.42,165.66L683.62,164.20L683.81,162.69" fill="none" stroke="#3aaa6e" stroke-width="1.4" stroke-linejoin="round" stroke-linecap="butt" />
<path d="M656.81,143.37L657.00,142.09L657.20,140.87L657.39,139.66L657.59,138.43L657.78,137.13L657.97,135.75L658.17,134.26L658.36,132.67L658.57,131.02L658.78,129.25L658.99,127.37L659.19,125.38L659.40,123.29L659.61,121.11L659.82,118.84L660.03,116.51L660.24,114.13L660.45,111.70L660.66,109.24L660.87,106.75L661.08,104.26L661.29,101.78L661.50,99.30L661.71,96.85L661.93,94.43L662.15,92.04L662.37,89.70L662.59,87.42L662.80,85.19L663.01,83.03L663.21,80.93L663.41,78.91L663.60,76.96L663.80,75.09L664.00,73.30L664.20,71.59L664.39,69.97L664.59,68.43L664.79,66.98L664.99,65.62L665.18,64.35L665.38,63.17L665.58,62.07L665.77,61.08L665.96,60.17L666.15,59.35L666.33,58.63L666.52,58.00L666.70,57.47L666.89,57.04L667.07,56.69L667.26,56.50L667.44,56.42L667.62,56.43L667.81,56.54L667.99,56.73L668.17,56.94L668.35,57.25L668.53,57.66L668.70,58.17L668.88,58.78L669.06,59.49L669.23,60.29L669.41,61.24L669.59,62.28L669.77,63.42L669.95,64.66L670.13,65.99L670.31,67.42L670.49,68.93L670.67,70.54L670.85,72.22L671.04,73.99L671.22,75.84L671.40,77.77L671.59,79.77L671.77,81.84L671.96,83.97L672.15,86.16L672.35,88.41L672.54,90.71L672.74,93.06L672.93,95.45L673.13,97.88L673.32,100.34L673.51,102.83L673.71,105.34L673.90,107.87L674.10,110.41L674.29,112.96L674.49,115.52L674.68,118.07L674.87,120.62L675.07,123.16L675.26,125.68L675.46,128.19L675.65,130.67L675.85,133.13L676.04,135.55L676.23,137.95L676.43,140.30L676.62,142.62L676.82,144.89L677.01,147.11L677.21,149.28L677.40,151.40L677.59,153.46L677.79,155.45L677.98,157.39L678.18,159.25L678.37,161.03L678.56,162.74L678.76,164.37L678.95,165.91L679.15,167.35L679.34,168.70L679.54,169.94L679.73,171.07L679.92,172.09L680.12,172.99L680.31,173.76L680.51,174.39L680.70,174.89L680.90,175.24L681.09,175.45L681.28,175.51L681.48,175.41L681.67,175.17L681.87,174.78L682.06,174.24L682.26,173.58L682.45,172.79L682.64,171.88L682.84,170.83L683.03,169.74L683.23,168.65L683.42,167.60L683.62,166.67L683.81,165.92" fill="none" stroke="#b87fe6" stroke-width="1.4" stroke-linejoin="round" stroke-linecap="butt" />
</g>
<path d="M386.5,5.5H683.5V229.5" fill="none" stroke="#2e2e2e" stroke-width="1.0"/><path d="M386.5,5.0V229.5H684.0" fill="none" stroke="#2e2e2e" stroke-width="1"/>
<path d="M382.3,5.50H386.5" stroke="#2e2e2e" stroke-width="1"/><text x="379.6" y="9.17" text-anchor="end" font-size="10.25" font-weight="bold" stroke="#000" stroke-width="0.22">0.55</text><path d="M384.2,19.50H386.5" stroke="#2e2e2e" stroke-width="1"/><path d="M382.3,33.50H386.5" stroke="#2e2e2e" stroke-width="1"/><text x="379.6" y="37.17" text-anchor="end" font-size="10.25" font-weight="bold" stroke="#000" stroke-width="0.22">0.50</text><path d="M384.2,47.50H386.5" stroke="#2e2e2e" stroke-width="1"/><path d="M382.3,61.50H386.5" stroke="#2e2e2e" stroke-width="1"/><text x="379.6" y="65.17" text-anchor="end" font-size="10.25" font-weight="bold" stroke="#000" stroke-width="0.22">0.45</text><path d="M384.2,75.50H386.5" stroke="#2e2e2e" stroke-width="1"/><path d="M382.3,89.50H386.5" stroke="#2e2e2e" stroke-width="1"/><text x="379.6" y="93.17" text-anchor="end" font-size="10.25" font-weight="bold" stroke="#000" stroke-width="0.22">0.40</text><path d="M384.2,103.50H386.5" stroke="#2e2e2e" stroke-width="1"/><path d="M382.3,117.50H386.5" stroke="#2e2e2e" stroke-width="1"/><text x="379.6" y="121.17" text-anchor="end" font-size="10.25" font-weight="bold" stroke="#000" stroke-width="0.22">0.35</text><path d="M384.2,131.50H386.5" stroke="#2e2e2e" stroke-width="1"/><path d="M382.3,145.50H386.5" stroke="#2e2e2e" stroke-width="1"/><text x="379.6" y="149.17" text-anchor="end" font-size="10.25" font-weight="bold" stroke="#000" stroke-width="0.22">0.30</text><path d="M384.2,159.50H386.5" stroke="#2e2e2e" stroke-width="1"/><path d="M382.3,173.50H386.5" stroke="#2e2e2e" stroke-width="1"/><text x="379.6" y="177.17" text-anchor="end" font-size="10.25" font-weight="bold" stroke="#000" stroke-width="0.22">0.25</text><path d="M384.2,187.50H386.5" stroke="#2e2e2e" stroke-width="1"/><path d="M382.3,201.50H386.5" stroke="#2e2e2e" stroke-width="1"/><text x="379.6" y="205.17" text-anchor="end" font-size="10.25" font-weight="bold" stroke="#000" stroke-width="0.22">0.20</text><path d="M384.2,215.50H386.5" stroke="#2e2e2e" stroke-width="1"/><path d="M382.3,229.50H386.5" stroke="#2e2e2e" stroke-width="1"/><text x="379.6" y="233.17" text-anchor="end" font-size="10.25" font-weight="bold" stroke="#000" stroke-width="0.22">0.15</text>
<path d="M386.50,229.5v3.8" stroke="#2e2e2e" stroke-width="1"/>
<text x="387.30" y="244.2" text-anchor="middle" font-size="10.4" font-weight="bold" stroke="#000" stroke-width="0.22">2011</text>
<path d="M413.50,229.5v2.2" stroke="#2e2e2e" stroke-width="1"/>
<path d="M440.50,229.5v3.8" stroke="#2e2e2e" stroke-width="1"/>
<text x="441.30" y="244.0" text-anchor="middle" font-size="10.4" font-weight="bold" stroke="#000" stroke-width="0.22">2013</text>
<path d="M467.50,229.5v2.2" stroke="#2e2e2e" stroke-width="1"/>
<path d="M494.50,229.5v3.8" stroke="#2e2e2e" stroke-width="1"/>
<text x="493.00" y="245.1" text-anchor="middle" font-size="10.4" font-weight="bold" stroke="#000" stroke-width="0.22">2015</text>
<path d="M521.50,229.5v2.2" stroke="#2e2e2e" stroke-width="1"/>
<path d="M548.50,229.5v3.8" stroke="#2e2e2e" stroke-width="1"/>
<text x="549.50" y="245.1" text-anchor="middle" font-size="10.4" font-weight="bold" stroke="#000" stroke-width="0.22">2017</text>
<path d="M575.50,229.5v2.2" stroke="#2e2e2e" stroke-width="1"/>
<path d="M602.50,229.5v3.8" stroke="#2e2e2e" stroke-width="1"/>
<text x="602.00" y="246.0" text-anchor="middle" font-size="10.4" font-weight="bold" stroke="#000" stroke-width="0.22">2019</text>
<path d="M629.50,229.5v2.2" stroke="#2e2e2e" stroke-width="1"/>
<path d="M656.50,229.5v3.8" stroke="#2e2e2e" stroke-width="1"/>
<text x="656.10" y="246.4" text-anchor="middle" font-size="10.4" font-weight="bold" stroke="#000" stroke-width="0.22">2021</text>
<path d="M683.50,229.5v2.2" stroke="#2e2e2e" stroke-width="1"/>
<text x="521.4" y="259.8" text-anchor="middle" font-size="10.3" font-weight="bold" stroke="#000" stroke-width="0.22">Time [year]</text>
<text transform="translate(356.2,117.4) rotate(-90)" text-anchor="middle" font-size="10.6" font-weight="bold" stroke="#000" stroke-width="0.22">PMY [as]</text>
<text x="534.1" y="281.5" text-anchor="middle" font-size="18" style="font-family:'Liberation Serif',serif">(b)</text>
<path d="M548.5,207.0H566.9" stroke="#0000ff" stroke-width="2.0"/><text x="568.4" y="209.70" font-size="7.5" fill="#000" stroke="#000" stroke-width="0.12">IERS EOP14C04</text><path d="M548.5,216.5H566.9" stroke="#800000" stroke-width="1.3"/><text x="568.4" y="219.20" font-size="7.5" fill="#000" stroke="#000" stroke-width="0.12">LSTM</text><path d="M548.5,225.6H566.9" stroke="#b87fe6" stroke-width="2.0"/><text x="568.4" y="228.30" font-size="7.5" fill="#000" stroke="#000" stroke-width="0.12">Bulletin A</text><path d="M628.2,207.0H646.0" stroke="#ff8000" stroke-width="2.0"/><text x="647.5" y="209.70" font-size="7.5" fill="#000" stroke="#000" stroke-width="0.12">LS+AR</text><path d="M628.2,216.5H646.0" stroke="#3aaa6e" stroke-width="1.3"/><text x="647.5" y="219.20" font-size="7.5" fill="#000" stroke="#000" stroke-width="0.12">LS+LSTM</text>
<path d="M46.50,344.30H336.7" stroke="#a0a0a0" stroke-width="1" stroke-dasharray="4.6 4.45"/>
<path d="M46.50,383.85H336.7" stroke="#a0a0a0" stroke-width="1" stroke-dasharray="4.6 4.45"/>
<path d="M46.50,423.40H336.7" stroke="#a0a0a0" stroke-width="1" stroke-dasharray="4.6 4.45"/>
<path d="M46.50,462.45H336.7" stroke="#a0a0a0" stroke-width="1" stroke-dasharray="4.6 4.45"/>
<path d="M46.50,502.45H336.7" stroke="#a0a0a0" stroke-width="1" stroke-dasharray="4.6 4.45"/>
<clipPath id="cc"><rect x="46.5" y="305.0" width="290.8" height="236.5"/></clipPath>
<g clip-path="url(#cc)">
<path d="M46.70,488.00C47.10,488.64 49.31,492.66 50.10,493.50C50.89,494.34 52.72,494.66 53.50,495.20C54.28,495.74 56.02,497.50 56.80,498.10C57.58,498.70 59.41,500.04 60.20,500.30C60.99,500.56 62.71,500.07 63.60,500.30C64.49,500.53 66.33,502.01 67.80,502.30C69.27,502.59 74.73,502.96 76.20,502.80C77.67,502.64 79.32,501.06 80.40,500.90C81.48,500.74 84.32,501.14 85.50,501.40C86.68,501.66 89.23,503.05 90.50,503.10C91.77,503.15 95.22,502.58 96.40,501.80C97.58,501.02 99.52,497.78 100.60,496.40C101.68,495.02 104.61,490.89 105.70,490.00C106.79,489.11 108.92,489.52 109.90,488.80C110.88,488.08 113.12,485.07 114.10,483.80C115.08,482.53 117.12,479.18 118.30,477.90C119.48,476.62 123.02,473.39 124.20,472.80C125.38,472.21 127.51,473.19 128.40,472.80C129.29,472.42 131.02,470.51 131.80,469.50C132.58,468.49 134.12,464.99 135.10,464.10C136.08,463.21 139.02,463.14 140.20,461.90C141.38,460.66 144.02,455.46 145.20,453.50C146.38,451.54 149.22,447.04 150.31,445.10C151.40,443.16 153.65,438.85 154.55,436.90C155.46,434.95 157.26,430.17 158.07,428.40C158.88,426.63 160.47,423.37 161.49,421.70C162.50,420.03 165.55,415.57 166.77,414.10C167.98,412.63 170.71,410.48 171.91,409.10C173.11,407.72 175.95,403.48 177.05,402.30C178.14,401.12 180.19,400.56 181.28,399.00C182.37,397.44 185.14,391.26 186.42,388.90C187.70,386.54 190.98,381.26 192.26,378.80C193.54,376.34 196.21,370.16 197.40,367.80C198.59,365.44 201.05,360.76 202.44,358.60C203.82,356.44 207.94,350.53 209.29,349.30C210.64,348.07 213.02,348.59 214.03,348.10C215.03,347.61 217.01,345.80 217.88,345.10C218.74,344.40 220.61,342.14 221.45,342.10C222.29,342.06 223.99,344.25 225.10,344.80C226.21,345.35 229.62,346.47 231.00,346.80C232.38,347.13 235.71,347.25 236.90,347.60C238.09,347.95 240.38,349.40 241.18,349.80C241.98,350.20 242.83,350.57 243.76,351.00C244.69,351.43 247.98,352.72 249.14,353.50C250.29,354.28 252.39,356.62 253.65,357.70C254.92,358.78 258.65,361.52 260.00,362.80C261.34,364.08 264.01,367.23 265.20,368.70C266.39,370.17 269.13,373.93 270.20,375.40C271.27,376.87 273.51,379.53 274.40,381.30C275.29,383.07 276.91,388.93 277.80,390.60C278.69,392.27 280.92,394.04 282.00,395.60C283.08,397.16 285.93,401.94 287.04,404.00C288.15,406.06 290.48,411.04 291.54,413.30C292.60,415.56 295.15,421.77 296.13,423.40C297.11,425.03 298.89,425.73 299.91,427.30C300.93,428.88 304.03,435.21 304.90,436.90C305.77,438.59 305.93,439.65 307.40,441.80C308.87,443.95 315.82,452.35 317.50,455.30C319.18,458.25 320.42,463.96 321.80,467.10C323.18,470.24 327.54,478.67 329.30,482.20C331.06,485.73 336.01,495.63 336.90,497.40" fill="none" stroke="#ff0000" stroke-width="1.6" stroke-linejoin="round" stroke-linecap="butt" />
<path d="M46.70,487.91L48.79,490.36L50.88,492.81L52.96,495.23L55.05,497.60L57.14,499.90L59.23,502.12L61.31,504.25L63.40,506.27L65.49,508.18L67.58,509.97L69.67,511.63L71.75,513.16L73.84,514.54L75.93,515.78L78.02,516.88L80.10,517.83L82.19,518.62L84.28,519.27L86.37,519.76L88.46,520.10L90.56,520.29L92.73,520.32L94.90,520.19L97.06,519.91L99.23,519.48L101.39,518.90L103.56,518.17L105.73,517.28L107.89,516.24L110.06,515.06L112.22,513.73L114.39,512.26L116.56,510.64L118.72,508.88L120.89,506.98L123.05,504.95L125.22,502.78L127.39,500.48L129.55,498.05L131.71,495.50L133.77,492.82L135.83,490.03L137.89,487.12L139.95,484.11L142.02,480.99L144.08,477.76L146.14,474.45L148.20,471.04L150.26,467.55L152.32,463.97L154.39,460.33L156.45,456.62L158.51,452.85L160.57,449.02L162.63,445.15L164.69,441.25L166.76,437.31L168.82,433.34L170.88,429.36L173.00,425.38L175.12,421.39L177.25,417.41L179.37,413.45L181.50,409.51L183.62,405.61L185.75,401.76L187.87,397.95L190.00,394.20L192.12,390.53L194.24,386.93L196.37,383.41L198.49,379.99L200.62,376.68L202.74,373.47L204.87,370.38L206.99,367.42L209.11,364.59L211.24,361.90L213.35,359.36L215.47,356.97L217.58,354.75L219.69,352.68L221.80,350.80L223.92,349.08L226.03,347.55L228.14,346.20L230.26,345.04L232.37,344.08L234.48,343.31L236.59,342.73L238.64,342.35L240.67,342.17L242.71,342.19L244.74,342.41L246.77,342.83L248.80,343.44L250.83,344.25L252.87,345.25L254.90,346.44L256.93,347.82L258.96,349.38L261.00,351.11L263.03,353.02L265.06,355.09L267.12,357.32L269.22,359.70L271.32,362.22L273.42,364.88L275.51,367.67L277.61,370.58L279.71,373.60L281.81,376.73L283.91,379.94L286.00,383.24L287.94,386.61L289.84,390.05L291.75,393.54L293.66,397.07L295.57,400.64L297.47,404.24L299.38,407.85L301.31,411.47L303.26,415.10L305.21,418.71L307.16,422.32L309.11,425.91L311.06,429.48L313.01,433.02L315.07,436.54L317.25,440.04L319.43,443.51L321.62,446.96L323.80,450.39L325.98,453.81L328.16,457.24L330.35,460.68L332.53,464.15L334.71,467.68L336.90,471.27" fill="none" stroke="#ff8000" stroke-width="1.6" stroke-linejoin="round" stroke-linecap="butt" />
<path d="M46.70,487.89L48.79,490.32L50.88,492.72L52.96,495.06L55.05,497.32L57.14,499.49L59.23,501.56L61.31,503.53L63.40,505.37L65.49,507.10L67.58,508.69L69.67,510.16L71.75,511.49L73.84,512.69L75.93,513.75L78.02,514.68L80.10,515.47L82.19,516.12L84.28,516.63L86.37,517.01L88.46,517.25L90.56,517.35L92.73,517.31L94.90,517.14L97.06,516.84L99.23,516.40L101.39,515.82L103.56,515.12L105.73,514.28L107.89,513.30L110.06,512.20L112.22,510.97L114.39,509.61L116.56,508.12L118.72,506.51L120.89,504.78L123.05,502.92L125.22,500.94L127.39,498.85L129.55,496.64L131.71,494.32L133.82,491.89L135.92,489.36L138.03,486.72L140.13,483.99L142.23,481.17L144.34,478.26L146.44,475.26L148.55,472.19L150.65,469.04L152.76,465.83L154.86,462.56L156.96,459.23L159.03,455.85L161.10,452.43L163.16,448.98L165.23,445.50L167.30,442.00L169.36,438.48L171.43,434.96L173.50,431.44L175.56,427.93L177.63,424.43L179.70,420.95L181.77,417.51L183.84,414.11L185.91,410.75L187.98,407.45L190.05,404.20L192.12,401.03L194.19,397.93L196.26,394.91L198.33,391.98L200.40,389.15L202.47,386.42L204.54,383.79L206.61,381.28L208.68,378.89L210.75,376.62L212.90,374.49L215.07,372.49L217.24,370.62L219.41,368.90L221.58,367.33L223.76,365.91L225.93,364.64L228.10,363.53L230.27,362.57L232.44,361.78L234.61,361.15L236.78,360.68L238.80,360.38L240.79,360.24L242.77,360.27L244.75,360.47L246.74,360.82L248.72,361.34L250.70,362.02L252.69,362.86L254.67,363.86L256.65,365.02L258.64,366.32L260.62,367.77L262.60,369.37L264.59,371.11L266.61,372.98L268.67,374.99L270.74,377.12L272.81,379.37L274.87,381.73L276.94,384.20L279.01,386.77L281.07,389.44L283.14,392.19L285.21,395.03L287.23,397.93L289.25,400.90L291.27,403.93L293.29,407.01L295.31,410.14L297.32,413.30L299.34,416.49L301.31,419.70L303.26,422.93L305.21,426.17L307.16,429.41L309.11,432.66L311.06,435.91L313.01,439.15L315.07,442.40L317.25,445.64L319.43,448.88L321.62,452.14L323.80,455.41L325.98,458.71L328.16,462.06L330.35,465.47L332.53,468.96L334.71,472.57L336.90,476.33" fill="none" stroke="#800000" stroke-width="1.6" stroke-linejoin="round" stroke-linecap="butt" />
<path d="M46.70,488.02L48.79,490.12L50.88,492.30L52.96,494.51L55.05,496.71L57.14,498.87L59.23,500.95L61.31,502.93L63.40,504.80L65.49,506.54L67.58,508.14L69.67,509.59L71.75,510.89L73.84,512.03L75.93,513.02L78.02,513.85L80.10,514.52L82.19,515.04L84.28,515.42L86.37,515.64L88.46,515.72L90.56,515.66L92.70,515.46L94.84,515.12L96.98,514.66L99.12,514.06L101.26,513.33L103.40,512.48L105.54,511.50L107.68,510.40L109.82,509.17L111.96,507.83L114.10,506.36L116.24,504.77L118.38,503.06L120.52,501.22L122.66,499.27L124.80,497.19L126.94,495.00L129.08,492.68L131.21,490.24L133.32,487.68L135.42,485.00L137.52,482.21L139.63,479.30L141.73,476.27L143.83,473.14L145.94,469.89L148.04,466.55L150.14,463.10L152.25,459.56L154.35,455.93L156.45,452.21L158.56,448.42L160.66,444.56L162.76,440.63L164.87,436.66L166.97,432.63L169.07,428.57L171.18,424.49L173.29,420.39L175.39,416.28L177.50,412.18L179.61,408.10L181.72,404.04L183.83,400.03L185.94,396.06L188.05,392.16L190.16,388.34L192.26,384.60L194.37,380.97L196.48,377.44L198.59,374.04L200.70,370.77L202.81,367.64L204.92,364.67L207.02,361.86L209.13,359.23L211.24,356.78L213.39,354.52L215.54,352.46L217.70,350.60L219.85,348.95L222.00,347.52L224.16,346.31L226.31,345.33L228.47,344.56L230.62,344.03L232.78,343.73L234.93,343.65L237.09,343.80L239.18,344.17L241.25,344.77L243.32,345.59L245.40,346.62L247.47,347.86L249.55,349.30L251.62,350.95L253.69,352.78L255.77,354.79L257.84,356.98L259.91,359.33L261.99,361.84L264.06,364.50L266.14,367.29L268.19,370.21L270.23,373.25L272.26,376.40L274.30,379.65L276.34,382.99L278.37,386.42L280.41,389.92L282.44,393.49L284.48,397.11L286.51,400.79L288.38,404.52L290.22,408.29L292.05,412.11L293.89,415.95L295.73,419.83L297.56,423.75L299.40,427.69L301.31,431.66L303.26,435.67L305.21,439.70L307.16,443.77L309.11,447.88L311.06,452.01L313.01,456.19L315.07,460.40L317.25,464.65L319.43,468.93L321.62,473.24L323.80,477.58L325.98,481.93L328.16,486.29L330.35,490.63L332.53,494.93L334.71,499.18L336.90,503.32" fill="none" stroke="#3aaa6e" stroke-width="1.6" stroke-linejoin="round" stroke-linecap="butt" />
<path d="M46.70,488.03L48.79,490.05L50.88,492.16L52.96,494.32L55.05,496.48L57.14,498.61L59.23,500.66L61.31,502.63L63.40,504.47L65.49,506.19L67.58,507.77L69.67,509.19L71.75,510.46L73.84,511.55L75.93,512.48L78.02,513.24L80.10,513.82L82.19,514.24L84.28,514.48L86.37,514.56L88.46,514.48L90.56,514.23L92.70,513.82L94.84,513.26L96.98,512.54L99.12,511.68L101.26,510.67L103.40,509.51L105.54,508.22L107.68,506.78L109.82,505.22L111.96,503.52L114.10,501.69L116.24,499.74L118.38,497.66L120.52,495.46L122.66,493.15L124.80,490.71L126.94,488.17L129.08,485.51L131.21,482.75L133.32,479.88L135.42,476.91L137.52,473.85L139.63,470.69L141.73,467.44L143.83,464.11L145.94,460.70L148.04,457.22L150.14,453.67L152.25,450.05L154.35,446.38L156.45,442.66L158.56,438.89L160.66,435.09L162.76,431.26L164.87,427.41L166.97,423.55L169.07,419.68L171.18,415.81L173.29,411.96L175.39,408.13L177.50,404.33L179.61,400.56L181.72,396.85L183.83,393.19L185.94,389.60L188.05,386.09L190.16,382.66L192.26,379.32L194.37,376.09L196.48,372.97L198.59,369.96L200.70,367.08L202.81,364.34L204.92,361.74L207.02,359.29L209.13,356.99L211.24,354.85L213.42,352.88L215.62,351.08L217.81,349.46L220.01,348.01L222.20,346.75L224.40,345.67L226.60,344.79L228.79,344.09L230.99,343.58L233.19,343.27L235.38,343.14L237.58,343.21L239.65,343.46L241.69,343.90L243.73,344.53L245.76,345.33L247.80,346.32L249.84,347.48L251.88,348.80L253.92,350.30L255.96,351.95L258.00,353.76L260.04,355.72L262.08,357.82L264.12,360.06L266.16,362.43L268.19,364.93L270.23,367.54L272.26,370.27L274.30,373.10L276.34,376.03L278.37,379.06L280.41,382.18L282.44,385.38L284.48,388.65L286.51,392.00L288.38,395.41L290.22,398.89L292.05,402.43L293.89,406.02L295.73,409.67L297.56,413.36L299.40,417.09L301.31,420.87L303.26,424.69L305.21,428.55L307.16,432.44L309.11,436.36L311.06,440.32L313.01,444.30L315.07,448.30L317.25,452.32L319.43,456.36L321.62,460.40L323.80,464.44L325.98,468.48L328.16,472.50L330.35,476.49L332.53,480.43L334.71,484.31L336.90,488.10" fill="none" stroke="#b87fe6" stroke-width="1.6" stroke-linejoin="round" stroke-linecap="butt" />
</g>
<path d="M46.5,305.0H336.7V541.5" fill="none" stroke="#3c3c3c" stroke-width="1.15"/><path d="M46.5,304.5V541.5H337.2" fill="none" stroke="#2e2e2e" stroke-width="1"/>
<path d="M42.0,305.00H46.5" stroke="#2e2e2e" stroke-width="1"/><text x="38.5" y="309.26" text-anchor="end" font-size="11.9" font-weight="bold" stroke="#000" stroke-width="0.22">0.30</text><path d="M44.2,324.65H46.5" stroke="#2e2e2e" stroke-width="1"/><path d="M42.0,344.30H46.5" stroke="#2e2e2e" stroke-width="1"/><text x="38.5" y="348.56" text-anchor="end" font-size="11.9" font-weight="bold" stroke="#000" stroke-width="0.22">0.25</text><path d="M44.2,364.08H46.5" stroke="#2e2e2e" stroke-width="1"/><path d="M42.0,383.85H46.5" stroke="#2e2e2e" stroke-width="1"/><text x="38.5" y="388.11" text-anchor="end" font-size="11.9" font-weight="bold" stroke="#000" stroke-width="0.22">0.20</text><path d="M44.2,403.62H46.5" stroke="#2e2e2e" stroke-width="1"/><path d="M42.0,423.40H46.5" stroke="#2e2e2e" stroke-width="1"/><text x="38.5" y="427.66" text-anchor="end" font-size="11.9" font-weight="bold" stroke="#000" stroke-width="0.22">0.15</text><path d="M44.2,442.92H46.5" stroke="#2e2e2e" stroke-width="1"/><path d="M42.0,462.45H46.5" stroke="#2e2e2e" stroke-width="1"/><text x="38.5" y="466.71" text-anchor="end" font-size="11.9" font-weight="bold" stroke="#000" stroke-width="0.22">0.10</text><path d="M44.2,482.45H46.5" stroke="#2e2e2e" stroke-width="1"/><path d="M42.0,502.45H46.5" stroke="#2e2e2e" stroke-width="1"/><text x="38.5" y="506.71" text-anchor="end" font-size="11.9" font-weight="bold" stroke="#000" stroke-width="0.22">0.05</text><path d="M44.2,521.98H46.5" stroke="#2e2e2e" stroke-width="1"/><path d="M42.0,541.50H46.5" stroke="#2e2e2e" stroke-width="1"/><text x="38.5" y="545.76" text-anchor="end" font-size="11.9" font-weight="bold" stroke="#000" stroke-width="0.22">0.00</text>
<path d="M46.50,541.5v5.0" stroke="#2e2e2e" stroke-width="1"/>
<text x="46.10" y="559.0" text-anchor="middle" font-size="11.7" font-weight="bold" stroke="#000" stroke-width="0.22">0</text>
<path d="M75.52,541.5v2.6" stroke="#2e2e2e" stroke-width="1"/>
<path d="M104.54,541.5v5.0" stroke="#2e2e2e" stroke-width="1"/>
<text x="104.14" y="559.0" text-anchor="middle" font-size="11.7" font-weight="bold" stroke="#000" stroke-width="0.22">73</text>
<path d="M133.56,541.5v2.6" stroke="#2e2e2e" stroke-width="1"/>
<path d="M162.58,541.5v5.0" stroke="#2e2e2e" stroke-width="1"/>
<text x="162.18" y="559.0" text-anchor="middle" font-size="11.7" font-weight="bold" stroke="#000" stroke-width="0.22">146</text>
<path d="M191.60,541.5v2.6" stroke="#2e2e2e" stroke-width="1"/>
<path d="M220.62,541.5v5.0" stroke="#2e2e2e" stroke-width="1"/>
<text x="220.22" y="559.0" text-anchor="middle" font-size="11.7" font-weight="bold" stroke="#000" stroke-width="0.22">219</text>
<path d="M249.64,541.5v2.6" stroke="#2e2e2e" stroke-width="1"/>
<path d="M278.66,541.5v5.0" stroke="#2e2e2e" stroke-width="1"/>
<text x="278.26" y="559.0" text-anchor="middle" font-size="11.7" font-weight="bold" stroke="#000" stroke-width="0.22">292</text>
<path d="M307.68,541.5v2.6" stroke="#2e2e2e" stroke-width="1"/>
<path d="M336.70,541.5v5.0" stroke="#2e2e2e" stroke-width="1"/>
<text x="328.80" y="559.0" text-anchor="middle" font-size="11.7" font-weight="bold" stroke="#000" stroke-width="0.22">365</text>
<text x="195.4" y="576.1" text-anchor="middle" font-size="12.0" font-weight="bold" stroke="#000" stroke-width="0.22">Time [days]</text>
<text transform="translate(10.1,422.8) rotate(-90)" text-anchor="middle" font-size="12" font-weight="bold" stroke="#000" stroke-width="0.22">PMX[as]</text>
<text x="207.8" y="600.1" text-anchor="middle" font-size="18.5" style="font-family:'Liberation Serif',serif">(c)</text>
<path d="M178.2,511.5H199.2" stroke="#ff0000" stroke-width="1.5"/><text x="201.2" y="514.63" font-size="8.7" fill="#000" stroke="#000" stroke-width="0.12">IERS EOP14C04</text><path d="M178.2,522.2H199.2" stroke="#800000" stroke-width="1.5"/><text x="201.2" y="525.33" font-size="8.7" fill="#000" stroke="#000" stroke-width="0.12">LSTM</text><path d="M178.2,533.3H199.2" stroke="#b87fe6" stroke-width="1.5"/><text x="201.2" y="536.43" font-size="8.7" fill="#000" stroke="#000" stroke-width="0.12">Bulletin A</text><path d="M268.3,511.5H288.9" stroke="#ff8000" stroke-width="1.5"/><text x="290.8" y="514.63" font-size="8.7" fill="#000" stroke="#000" stroke-width="0.12">LS+AR</text><path d="M268.3,522.2H288.9" stroke="#3aaa6e" stroke-width="1.5"/><text x="290.8" y="525.33" font-size="8.7" fill="#000" stroke="#000" stroke-width="0.12">LS+LSTM</text>
<path d="M388.50,344.30H678.0" stroke="#a0a0a0" stroke-width="1" stroke-dasharray="4.6 4.45"/>
<path d="M388.50,383.85H678.0" stroke="#a0a0a0" stroke-width="1" stroke-dasharray="4.6 4.45"/>
<path d="M388.50,423.40H678.0" stroke="#a0a0a0" stroke-width="1" stroke-dasharray="4.6 4.45"/>
<path d="M388.50,462.45H678.0" stroke="#a0a0a0" stroke-width="1" stroke-dasharray="4.6 4.45"/>
<path d="M388.50,502.45H678.0" stroke="#a0a0a0" stroke-width="1" stroke-dasharray="4.6 4.45"/>
<clipPath id="cd"><rect x="388.5" y="305.0" width="290.1" height="236.5"/></clipPath>
<g clip-path="url(#cd)">
<path d="M388.60,458.75C389.00,458.35 391.06,456.09 392.00,455.30C392.94,454.51 395.19,453.14 396.70,452.00C398.20,450.86 402.76,448.02 404.90,445.50C407.03,442.98 413.04,433.34 415.00,430.40C416.96,427.46 420.33,422.19 421.70,420.30C423.06,418.41 425.50,415.20 426.70,414.20C427.90,413.20 430.72,412.88 431.98,411.70C433.24,410.52 435.80,406.46 437.48,404.10C439.16,401.74 444.37,394.44 446.41,391.50C448.45,388.56 453.69,380.67 454.97,378.90C456.26,377.13 456.60,376.79 457.44,376.30C458.28,375.81 460.78,375.77 462.17,374.70C463.56,373.63 467.95,368.38 469.36,367.10C470.78,365.82 473.13,364.68 474.27,363.70C475.41,362.72 477.96,359.59 479.10,358.70C480.24,357.81 482.88,356.89 484.03,356.10C485.19,355.31 487.93,352.77 489.00,351.90C490.07,351.02 492.12,349.18 493.20,348.60C494.28,348.02 497.41,347.10 498.30,346.90C499.19,346.70 499.91,346.70 500.80,346.90C501.69,347.10 504.72,348.11 505.90,348.60C507.08,349.09 509.83,350.32 510.90,351.10C511.97,351.88 513.92,354.52 515.10,355.30C516.28,356.08 519.53,356.91 521.00,357.80C522.47,358.69 526.45,361.83 527.70,362.90C528.95,363.97 530.44,365.63 531.70,367.00C532.96,368.37 537.12,373.12 538.50,374.60C539.88,376.08 542.32,378.62 543.50,379.70C544.68,380.78 547.51,382.63 548.60,383.90C549.69,385.17 552.02,389.04 552.80,390.60C553.58,392.16 554.41,395.92 555.30,397.30C556.19,398.68 559.22,400.82 560.40,402.40C561.58,403.97 564.22,408.84 565.40,410.80C566.58,412.76 569.37,416.95 570.50,419.20C571.63,421.45 573.98,427.85 575.10,430.10C576.22,432.35 578.92,436.54 580.10,438.50C581.28,440.46 584.02,445.03 585.20,446.90C586.38,448.77 589.02,452.73 590.20,454.50C591.38,456.27 594.12,460.23 595.30,462.10C596.48,463.97 599.12,468.63 600.30,470.50C601.48,472.37 604.22,476.43 605.40,478.10C606.58,479.77 609.42,483.53 610.40,484.80C611.38,486.07 612.82,488.11 613.80,489.00C614.78,489.89 617.62,491.61 618.80,492.40C619.98,493.19 622.72,495.02 623.90,495.80C625.08,496.58 627.72,498.32 628.90,499.10C630.08,499.88 632.82,501.85 634.00,502.50C635.18,503.15 637.82,504.30 639.00,504.70C640.18,505.10 643.21,505.81 644.10,505.90C644.99,505.99 645.91,505.90 646.60,505.50C647.29,505.10 649.11,503.14 650.00,502.50C650.89,501.86 653.13,500.60 654.20,500.00C655.27,499.40 658.02,497.80 659.20,497.40C660.38,497.00 663.12,497.11 664.30,496.60C665.48,496.09 668.23,493.93 669.30,493.00C670.37,492.07 672.47,490.03 673.50,488.61C674.53,487.18 677.56,481.71 678.10,480.80" fill="none" stroke="#0000ff" stroke-width="1.6" stroke-linejoin="round" stroke-linecap="butt" />
<path d="M388.60,459.76L390.68,457.78L392.77,455.97L394.85,454.23L396.93,452.51L399.01,450.72L401.10,448.83L403.18,446.80L405.28,444.61L407.50,442.33L409.72,439.86L411.94,437.21L414.17,434.38L416.39,431.38L418.61,428.24L420.83,424.95L423.08,421.54L425.33,418.03L427.58,414.44L429.84,410.78L432.09,407.08L434.34,403.36L436.59,399.63L438.86,395.90L441.20,392.20L443.54,388.54L445.87,384.94L448.21,381.40L450.54,377.94L452.88,374.57L455.10,371.29L457.22,368.11L459.33,365.05L461.45,362.10L463.57,359.27L465.69,356.56L467.80,353.98L469.92,351.53L472.04,349.21L474.16,347.02L476.27,344.97L478.39,343.05L480.51,341.27L482.63,339.62L484.72,338.10L486.67,336.73L488.61,335.48L490.56,334.37L492.50,333.40L494.44,332.55L496.39,331.85L498.33,331.28L500.23,330.92L502.13,330.70L504.02,330.62L505.92,330.67L507.81,330.85L509.67,331.03L511.53,331.36L513.39,331.82L515.25,332.43L517.11,333.17L518.97,334.05L520.83,335.06L522.77,336.27L524.71,337.62L526.66,339.11L528.60,340.73L530.54,342.49L532.49,344.39L534.43,346.41L536.47,348.57L538.56,350.85L540.64,353.26L542.72,355.79L544.81,358.43L546.89,361.19L548.97,364.06L551.05,367.03L553.14,370.10L555.22,373.26L557.30,376.51L559.38,379.83L561.47,383.23L563.55,386.70L565.63,390.23L567.72,393.80L569.80,397.43L571.88,401.08L573.96,404.77L576.05,408.47L578.13,412.19L580.21,415.91L582.29,419.62L584.38,423.32L586.46,427.01L588.54,430.66L590.63,434.28L592.71,437.85L594.79,441.37L596.87,444.83L598.96,448.22L601.04,451.54L603.12,454.78L605.20,457.94L607.29,461.00L609.37,463.96L611.45,466.82L613.54,469.56L615.62,472.19L617.70,474.69L619.78,477.07L621.87,479.31L623.95,481.41L626.03,483.37L628.11,485.18L630.20,486.83L632.28,488.32L634.36,489.65L636.45,490.80L638.53,491.78L640.61,492.57L642.69,493.18L644.78,493.60L646.86,493.83L648.94,493.86L651.02,493.69L653.11,493.32L655.19,492.75L657.27,491.98L659.36,491.02L661.44,489.88L663.52,488.56L665.60,487.05L667.69,485.31L669.77,483.46L671.85,481.54L673.93,479.57L676.02,477.61L678.10,475.74" fill="none" stroke="#ff8000" stroke-width="1.6" stroke-linejoin="round" stroke-linecap="butt" />
<path d="M388.60,459.69L390.68,457.98L392.77,456.26L394.85,454.50L396.93,452.69L399.01,450.81L401.10,448.83L403.18,446.75L405.28,444.58L407.50,442.39L409.72,440.10L411.94,437.72L414.17,435.25L416.39,432.72L418.61,430.12L420.83,427.47L423.08,424.79L425.33,422.08L427.58,419.36L429.84,416.63L432.09,413.91L434.34,411.21L436.59,408.54L438.86,405.90L441.20,403.31L443.54,400.78L445.87,398.30L448.21,395.88L450.54,393.54L452.88,391.27L455.10,389.08L457.22,386.97L459.33,384.95L461.45,383.01L463.57,381.16L465.69,379.41L467.80,377.74L469.92,376.16L472.04,374.68L474.16,373.29L476.27,371.99L478.39,370.78L480.51,369.67L482.63,368.65L484.72,367.73L486.67,366.90L488.61,366.16L490.56,365.52L492.50,364.97L494.44,364.52L496.39,364.16L498.33,363.89L500.23,363.80L502.13,363.82L504.02,363.93L505.92,364.14L507.81,364.43L509.67,364.69L511.53,365.06L513.39,365.53L515.25,366.09L517.11,366.76L518.97,367.53L520.83,368.40L522.77,369.43L524.71,370.55L526.66,371.78L528.60,373.11L530.54,374.54L532.49,376.06L534.43,377.68L536.47,379.39L538.56,381.19L540.64,383.08L542.72,385.06L544.81,387.12L546.89,389.26L548.97,391.47L551.05,393.76L553.14,396.11L555.22,398.53L557.30,401.00L559.38,403.53L561.47,406.11L563.55,408.73L565.63,411.38L567.72,414.07L569.80,416.78L571.88,419.51L573.96,422.25L576.05,425.00L578.13,427.76L580.21,430.50L582.29,433.24L584.38,435.95L586.46,438.65L588.54,441.31L590.63,443.94L592.71,446.53L594.79,449.07L596.87,451.56L598.96,454.00L601.04,456.37L603.12,458.67L605.20,460.91L607.29,463.07L609.37,465.15L611.45,467.14L613.54,469.05L615.62,470.86L617.70,472.58L619.78,474.20L621.87,475.72L623.95,477.14L626.03,478.45L628.11,479.64L630.20,480.72L632.28,481.69L634.36,482.54L636.45,483.26L638.53,483.86L640.61,484.34L642.69,484.68L644.78,484.90L646.86,484.99L648.94,484.95L651.02,484.78L653.11,484.47L655.19,484.04L657.27,483.49L659.36,482.82L661.44,482.04L663.52,481.15L665.60,480.14L667.69,478.95L669.77,477.72L671.85,476.44L673.93,475.17L676.02,473.91L678.10,472.74" fill="none" stroke="#800000" stroke-width="1.6" stroke-linejoin="round" stroke-linecap="butt" />
<path d="M388.60,459.62L390.68,457.93L392.77,456.26L394.85,454.57L396.93,452.82L399.01,450.97L401.10,448.99L403.18,446.88L405.28,444.63L407.50,442.30L409.72,439.82L411.94,437.19L414.17,434.42L416.39,431.52L418.61,428.50L420.83,425.37L423.08,422.16L425.33,418.87L427.58,415.52L429.84,412.12L432.09,408.70L434.34,405.27L436.59,401.83L438.86,398.42L441.20,395.03L443.54,391.68L445.87,388.39L448.21,385.16L450.54,382.01L452.88,378.94L455.10,375.96L457.22,373.07L459.33,370.30L461.45,367.63L463.57,365.08L465.69,362.65L467.80,360.34L469.92,358.16L472.04,356.11L474.16,354.18L476.27,352.39L478.39,350.74L480.51,349.21L482.63,347.83L484.73,346.58L486.71,345.46L488.70,344.48L490.69,343.63L492.67,342.92L494.66,342.35L496.64,341.91L498.63,341.60L500.61,341.51L502.59,341.55L504.56,341.73L506.54,342.04L508.51,342.47L510.42,342.90L512.32,343.47L514.22,344.17L516.12,345.00L518.02,345.95L519.93,347.04L521.83,348.25L523.74,349.65L525.66,351.17L527.58,352.82L529.49,354.59L531.41,356.48L533.32,358.49L535.24,360.62L537.20,362.87L539.17,365.23L541.14,367.69L543.11,370.27L545.08,372.95L547.05,375.73L549.03,378.61L551.05,381.58L553.14,384.64L555.22,387.78L557.30,390.99L559.38,394.28L561.47,397.64L563.55,401.05L565.63,404.52L567.72,408.04L569.80,411.59L571.88,415.18L573.96,418.80L576.05,422.43L578.13,426.08L580.21,429.73L582.29,433.37L584.38,437.01L586.46,440.62L588.54,444.20L590.63,447.75L592.71,451.25L594.79,454.70L596.87,458.09L598.96,461.41L601.04,464.66L603.12,467.82L605.20,470.89L607.29,473.87L609.37,476.74L611.45,479.50L613.54,482.14L615.62,484.66L617.70,487.05L619.78,489.31L621.87,491.42L623.95,493.40L626.03,495.22L628.11,496.89L630.20,498.40L632.28,499.75L634.36,500.94L636.45,501.96L638.53,502.81L640.61,503.49L642.69,503.99L644.78,504.33L646.86,504.49L648.94,504.47L651.02,504.28L653.11,503.92L655.19,503.38L657.27,502.68L659.36,501.81L661.44,500.78L663.52,499.59L665.60,498.21L667.69,496.61L669.77,494.87L671.85,493.01L673.93,491.04L676.02,488.99L678.10,486.87" fill="none" stroke="#3aaa6e" stroke-width="1.6" stroke-linejoin="round" stroke-linecap="butt" />
<path d="M388.60,459.67L390.68,457.86L392.77,456.15L394.85,454.45L396.93,452.71L399.01,450.88L401.10,448.94L403.18,446.85L405.28,444.61L407.50,442.29L409.72,439.80L411.94,437.15L414.17,434.34L416.39,431.40L418.61,428.33L420.83,425.14L423.08,421.86L425.33,418.50L427.58,415.08L429.84,411.62L432.09,408.12L434.34,404.62L436.59,401.11L438.86,397.63L441.20,394.18L443.54,390.77L445.87,387.41L448.21,384.12L450.54,380.90L452.88,377.77L455.10,374.72L457.22,371.77L459.33,368.92L461.45,366.18L463.57,363.55L465.69,361.03L467.80,358.62L469.92,356.34L472.04,354.17L474.16,352.13L476.27,350.22L478.39,348.43L480.51,346.76L482.63,345.23L484.73,343.82L486.71,342.54L488.70,341.39L490.69,340.38L492.67,339.50L494.66,338.75L496.64,338.13L498.63,337.65L500.61,337.38L502.59,337.26L504.56,337.28L506.54,337.43L508.51,337.71L510.42,338.00L512.32,338.43L514.22,339.01L516.12,339.73L518.02,340.58L519.93,341.58L521.83,342.72L523.74,344.05L525.66,345.52L527.58,347.13L529.49,348.87L531.41,350.74L533.32,352.75L535.24,354.88L537.20,357.14L539.17,359.51L541.14,362.01L543.11,364.61L545.08,367.32L547.05,370.13L549.03,373.05L551.05,376.05L553.14,379.13L555.22,382.30L557.30,385.54L559.38,388.84L561.47,392.21L563.55,395.63L565.63,399.09L567.72,402.59L569.80,406.13L571.88,409.69L573.96,413.27L576.05,416.86L578.13,420.46L580.21,424.05L582.29,427.64L584.38,431.21L586.46,434.76L588.54,438.29L590.63,441.79L592.71,445.25L594.79,448.66L596.87,452.03L598.96,455.35L601.04,458.61L603.12,461.81L605.20,464.93L607.29,467.99L609.37,470.97L611.45,473.87L613.54,476.68L615.62,479.40L617.70,482.02L619.78,484.53L621.87,486.94L623.95,489.23L626.03,491.39L628.11,493.43L630.20,495.32L632.28,497.07L634.36,498.67L636.45,500.10L638.53,501.36L640.61,502.44L642.69,503.34L644.78,504.04L646.86,504.54L648.94,504.83L651.02,504.91L653.11,504.78L655.19,504.43L657.27,503.88L659.36,503.13L661.44,502.19L663.52,501.09L665.60,499.80L667.69,498.33L669.77,496.79L671.85,495.25L673.93,493.78L676.02,492.46L678.10,491.41" fill="none" stroke="#b87fe6" stroke-width="1.6" stroke-linejoin="round" stroke-linecap="butt" />
</g>
<path d="M388.5,305.0H678.0V541.5" fill="none" stroke="#3c3c3c" stroke-width="1.15"/><path d="M388.5,304.5V541.5H678.5" fill="none" stroke="#2e2e2e" stroke-width="1"/>
<path d="M384.0,305.00H388.5" stroke="#2e2e2e" stroke-width="1"/><text x="380.4" y="309.26" text-anchor="end" font-size="11.9" font-weight="bold" stroke="#000" stroke-width="0.22">0.50</text><path d="M386.2,324.65H388.5" stroke="#2e2e2e" stroke-width="1"/><path d="M384.0,344.30H388.5" stroke="#2e2e2e" stroke-width="1"/><text x="380.4" y="348.56" text-anchor="end" font-size="11.9" font-weight="bold" stroke="#000" stroke-width="0.22">0.45</text><path d="M386.2,364.08H388.5" stroke="#2e2e2e" stroke-width="1"/><path d="M384.0,383.85H388.5" stroke="#2e2e2e" stroke-width="1"/><text x="380.4" y="388.11" text-anchor="end" font-size="11.9" font-weight="bold" stroke="#000" stroke-width="0.22">0.40</text><path d="M386.2,403.62H388.5" stroke="#2e2e2e" stroke-width="1"/><path d="M384.0,423.40H388.5" stroke="#2e2e2e" stroke-width="1"/><text x="380.4" y="427.66" text-anchor="end" font-size="11.9" font-weight="bold" stroke="#000" stroke-width="0.22">0.35</text><path d="M386.2,442.92H388.5" stroke="#2e2e2e" stroke-width="1"/><path d="M384.0,462.45H388.5" stroke="#2e2e2e" stroke-width="1"/><text x="380.4" y="466.71" text-anchor="end" font-size="11.9" font-weight="bold" stroke="#000" stroke-width="0.22">0.30</text><path d="M386.2,482.45H388.5" stroke="#2e2e2e" stroke-width="1"/><path d="M384.0,502.45H388.5" stroke="#2e2e2e" stroke-width="1"/><text x="380.4" y="506.71" text-anchor="end" font-size="11.9" font-weight="bold" stroke="#000" stroke-width="0.22">0.25</text><path d="M386.2,521.98H388.5" stroke="#2e2e2e" stroke-width="1"/><path d="M384.0,541.50H388.5" stroke="#2e2e2e" stroke-width="1"/><text x="380.4" y="545.76" text-anchor="end" font-size="11.9" font-weight="bold" stroke="#000" stroke-width="0.22">0.20</text>
<path d="M388.50,541.5v5.0" stroke="#2e2e2e" stroke-width="1"/>
<text x="388.10" y="559.0" text-anchor="middle" font-size="11.7" font-weight="bold" stroke="#000" stroke-width="0.22">0</text>
<path d="M417.45,541.5v2.6" stroke="#2e2e2e" stroke-width="1"/>
<path d="M446.40,541.5v5.0" stroke="#2e2e2e" stroke-width="1"/>
<text x="446.00" y="559.0" text-anchor="middle" font-size="11.7" font-weight="bold" stroke="#000" stroke-width="0.22">73</text>
<path d="M475.35,541.5v2.6" stroke="#2e2e2e" stroke-width="1"/>
<path d="M504.30,541.5v5.0" stroke="#2e2e2e" stroke-width="1"/>
<text x="503.90" y="559.0" text-anchor="middle" font-size="11.7" font-weight="bold" stroke="#000" stroke-width="0.22">146</text>
<path d="M533.25,541.5v2.6" stroke="#2e2e2e" stroke-width="1"/>
<path d="M562.20,541.5v5.0" stroke="#2e2e2e" stroke-width="1"/>
<text x="561.80" y="559.0" text-anchor="middle" font-size="11.7" font-weight="bold" stroke="#000" stroke-width="0.22">219</text>
<path d="M591.15,541.5v2.6" stroke="#2e2e2e" stroke-width="1"/>
<path d="M620.10,541.5v5.0" stroke="#2e2e2e" stroke-width="1"/>
<text x="619.70" y="559.0" text-anchor="middle" font-size="11.7" font-weight="bold" stroke="#000" stroke-width="0.22">292</text>
<path d="M649.05,541.5v2.6" stroke="#2e2e2e" stroke-width="1"/>
<path d="M678.00,541.5v5.0" stroke="#2e2e2e" stroke-width="1"/>
<text x="669.80" y="559.0" text-anchor="middle" font-size="11.7" font-weight="bold" stroke="#000" stroke-width="0.22">365</text>
<text x="537.1" y="576.1" text-anchor="middle" font-size="12.0" font-weight="bold" stroke="#000" stroke-width="0.22">Time [days]</text>
<text transform="translate(352.6,422.8) rotate(-90)" text-anchor="middle" font-size="12" font-weight="bold" stroke="#000" stroke-width="0.22">PMY[as]</text>
<text x="548.4" y="600.1" text-anchor="middle" font-size="18.5" style="font-family:'Liberation Serif',serif">(d)</text>
<path d="M519.8,511.5H541.2" stroke="#0000ff" stroke-width="1.5"/><text x="542.8" y="514.63" font-size="8.7" fill="#000" stroke="#000" stroke-width="0.12">IERS EOP14C04</text><path d="M519.8,522.2H541.2" stroke="#800000" stroke-width="1.5"/><text x="542.8" y="525.33" font-size="8.7" fill="#000" stroke="#000" stroke-width="0.12">LSTM</text><path d="M519.8,533.3H541.2" stroke="#b87fe6" stroke-width="1.5"/><text x="542.8" y="536.43" font-size="8.7" fill="#000" stroke="#000" stroke-width="0.12">Bulletin A</text><path d="M609.9,511.5H630.4" stroke="#ff8000" stroke-width="1.5"/><text x="632.6" y="514.63" font-size="8.7" fill="#000" stroke="#000" stroke-width="0.12">LS+AR</text><path d="M609.9,522.2H630.4" stroke="#3aaa6e" stroke-width="1.5"/><text x="632.6" y="525.33" font-size="8.7" fill="#000" stroke="#000" stroke-width="0.12">LS+LSTM</text>
</svg>
</body></html>
